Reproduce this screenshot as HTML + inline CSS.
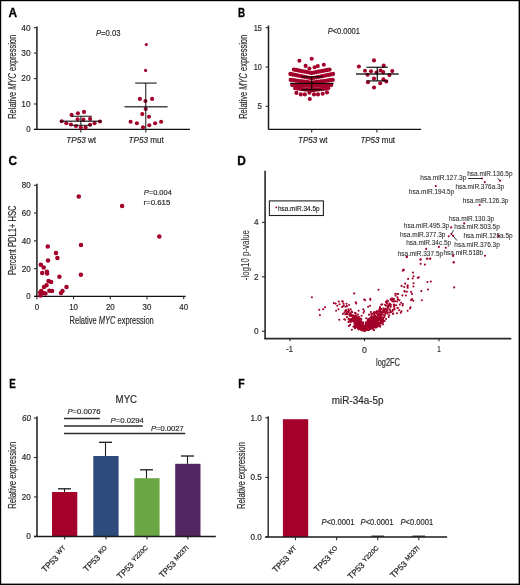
<!DOCTYPE html>
<html><head><meta charset="utf-8"><style>
html,body{margin:0;padding:0;background:#fff;}
body{width:520px;height:585px;overflow:hidden;}
svg{display:block;will-change:transform;font-family:"Liberation Sans",sans-serif;}
</style></head><body>
<svg width="520" height="585" viewBox="0 0 520 585">
<rect x="0" y="0" width="520" height="585" fill="#fff"/>
<text x="8.60" y="17.20" font-size="11.9" font-weight="bold" fill="#000" stroke="#000" stroke-width="0.3" >A</text>
<text x="238.00" y="17.30" font-size="11.9" textLength="7.10" lengthAdjust="spacingAndGlyphs" font-weight="bold" fill="#000" stroke="#000" stroke-width="0.3" >B</text>
<text x="8.40" y="164.60" font-size="11.9" font-weight="bold" fill="#000" stroke="#000" stroke-width="0.3" >C</text>
<text x="237.20" y="164.50" font-size="11.9" font-weight="bold" fill="#000" stroke="#000" stroke-width="0.3" >D</text>
<text x="9.30" y="388.20" font-size="11.9" textLength="6.50" lengthAdjust="spacingAndGlyphs" font-weight="bold" fill="#000" stroke="#000" stroke-width="0.3" >E</text>
<text x="238.30" y="388.30" font-size="11.9" textLength="6.40" lengthAdjust="spacingAndGlyphs" font-weight="bold" fill="#000" stroke="#000" stroke-width="0.3" >F</text>
<line x1="36.90" y1="26.50" x2="36.90" y2="129.40" stroke="#404040" stroke-width="1.8"/>
<line x1="33.90" y1="129.40" x2="36.90" y2="129.40" stroke="#2a2a2a" stroke-width="1.1"/>
<text x="30.60" y="132.30" font-size="8.2" textLength="4.40" lengthAdjust="spacingAndGlyphs" text-anchor="end" fill="#2a2a2a" stroke="#2a2a2a" stroke-width="0.18" >0</text>
<line x1="33.90" y1="103.98" x2="36.90" y2="103.98" stroke="#2a2a2a" stroke-width="1.1"/>
<text x="30.60" y="106.88" font-size="8.2" textLength="9.30" lengthAdjust="spacingAndGlyphs" text-anchor="end" fill="#2a2a2a" stroke="#2a2a2a" stroke-width="0.18" >10</text>
<line x1="33.90" y1="78.55" x2="36.90" y2="78.55" stroke="#2a2a2a" stroke-width="1.1"/>
<text x="30.60" y="81.45" font-size="8.2" textLength="9.30" lengthAdjust="spacingAndGlyphs" text-anchor="end" fill="#2a2a2a" stroke="#2a2a2a" stroke-width="0.18" >20</text>
<line x1="33.90" y1="53.12" x2="36.90" y2="53.12" stroke="#2a2a2a" stroke-width="1.1"/>
<text x="30.60" y="56.02" font-size="8.2" textLength="9.30" lengthAdjust="spacingAndGlyphs" text-anchor="end" fill="#2a2a2a" stroke="#2a2a2a" stroke-width="0.18" >30</text>
<line x1="33.90" y1="27.70" x2="36.90" y2="27.70" stroke="#2a2a2a" stroke-width="1.1"/>
<text x="30.60" y="30.60" font-size="8.2" textLength="9.30" lengthAdjust="spacingAndGlyphs" text-anchor="end" fill="#2a2a2a" stroke="#2a2a2a" stroke-width="0.18" >40</text>
<line x1="33.90" y1="129.40" x2="190.00" y2="129.40" stroke="#111" stroke-width="1.3"/>
<line x1="80.80" y1="129.40" x2="80.80" y2="132.60" stroke="#2a2a2a" stroke-width="1.1"/>
<line x1="145.80" y1="129.40" x2="145.80" y2="132.60" stroke="#2a2a2a" stroke-width="1.1"/>
<text x="0" y="0" font-size="10.8" text-anchor="middle" transform="translate(16.05,76.80) rotate(-90)" fill="#2a2a2a" stroke="#2a2a2a" stroke-width="0.18" textLength="84.00" lengthAdjust="spacingAndGlyphs">Relative <tspan font-style="italic">MYC</tspan> expression</text>
<text x="96.00" y="35.50" font-size="8.4" textLength="24.40" lengthAdjust="spacingAndGlyphs" fill="#2a2a2a" stroke="#2a2a2a" stroke-width="0.18" ><tspan font-style="italic">P</tspan>=0.03</text>
<text x="66.30" y="143.00" font-size="8.4" textLength="29.80" lengthAdjust="spacingAndGlyphs" fill="#2a2a2a" stroke="#2a2a2a" stroke-width="0.18" ><tspan font-style="italic">TP53</tspan> wt</text>
<text x="128.50" y="142.80" font-size="8.4" textLength="35.30" lengthAdjust="spacingAndGlyphs" fill="#2a2a2a" stroke="#2a2a2a" stroke-width="0.18" ><tspan font-style="italic">TP53</tspan> mut</text>
<circle cx="61.70" cy="121.30" r="2.05" fill="#a3002a"/>
<circle cx="66.30" cy="123.30" r="2.05" fill="#a3002a"/>
<circle cx="71.60" cy="114.90" r="2.05" fill="#a3002a"/>
<circle cx="70.90" cy="124.50" r="2.05" fill="#a3002a"/>
<circle cx="76.00" cy="126.00" r="2.05" fill="#a3002a"/>
<circle cx="77.90" cy="113.20" r="2.05" fill="#a3002a"/>
<circle cx="77.60" cy="119.20" r="2.05" fill="#a3002a"/>
<circle cx="80.80" cy="127.60" r="2.05" fill="#a3002a"/>
<circle cx="84.00" cy="111.90" r="2.05" fill="#a3002a"/>
<circle cx="83.40" cy="119.60" r="2.05" fill="#a3002a"/>
<circle cx="85.60" cy="127.60" r="2.05" fill="#a3002a"/>
<circle cx="90.10" cy="118.90" r="2.05" fill="#a3002a"/>
<circle cx="90.10" cy="124.70" r="2.05" fill="#a3002a"/>
<circle cx="94.60" cy="123.30" r="2.05" fill="#a3002a"/>
<circle cx="99.90" cy="121.50" r="2.05" fill="#a3002a"/>
<circle cx="139.90" cy="98.90" r="2.05" fill="#a3002a"/>
<circle cx="145.40" cy="101.00" r="2.05" fill="#a3002a"/>
<circle cx="152.10" cy="98.90" r="2.05" fill="#a3002a"/>
<circle cx="145.70" cy="109.00" r="2.05" fill="#a3002a"/>
<circle cx="142.30" cy="114.10" r="2.05" fill="#a3002a"/>
<circle cx="149.00" cy="116.80" r="2.05" fill="#a3002a"/>
<circle cx="130.60" cy="121.80" r="2.05" fill="#a3002a"/>
<circle cx="136.90" cy="123.20" r="2.05" fill="#a3002a"/>
<circle cx="155.10" cy="123.20" r="2.05" fill="#a3002a"/>
<circle cx="161.10" cy="121.80" r="2.05" fill="#a3002a"/>
<circle cx="143.00" cy="127.20" r="2.05" fill="#a3002a"/>
<circle cx="149.30" cy="125.20" r="2.05" fill="#a3002a"/>
<circle cx="146.30" cy="44.50" r="1.6" fill="#a3002a"/>
<circle cx="145.60" cy="70.40" r="1.6" fill="#a3002a"/>
<line x1="59.80" y1="121.30" x2="102.10" y2="121.30" stroke="rgba(0,0,0,0.72)" stroke-width="1.4"/>
<line x1="71.30" y1="116.30" x2="91.80" y2="116.30" stroke="rgba(0,0,0,0.72)" stroke-width="1.3"/>
<line x1="71.30" y1="125.40" x2="91.80" y2="125.40" stroke="rgba(0,0,0,0.72)" stroke-width="1.3"/>
<line x1="80.80" y1="116.30" x2="80.80" y2="125.40" stroke="rgba(0,0,0,0.72)" stroke-width="1.3"/>
<line x1="124.50" y1="106.70" x2="167.60" y2="106.70" stroke="rgba(0,0,0,0.72)" stroke-width="1.4"/>
<line x1="135.20" y1="83.10" x2="156.70" y2="83.10" stroke="rgba(0,0,0,0.72)" stroke-width="1.4"/>
<line x1="145.70" y1="83.10" x2="145.70" y2="129.40" stroke="rgba(0,0,0,0.72)" stroke-width="1.3"/>
<line x1="268.50" y1="25.50" x2="268.50" y2="129.40" stroke="#1a1a1a" stroke-width="1.5"/>
<line x1="265.60" y1="106.30" x2="268.40" y2="106.30" stroke="#2a2a2a" stroke-width="1.1"/>
<text x="261.80" y="109.20" font-size="8.2" textLength="4.40" lengthAdjust="spacingAndGlyphs" text-anchor="end" fill="#2a2a2a" stroke="#2a2a2a" stroke-width="0.18" >5</text>
<line x1="265.60" y1="67.00" x2="268.40" y2="67.00" stroke="#2a2a2a" stroke-width="1.1"/>
<text x="261.80" y="69.90" font-size="8.2" textLength="8.10" lengthAdjust="spacingAndGlyphs" text-anchor="end" fill="#2a2a2a" stroke="#2a2a2a" stroke-width="0.18" >10</text>
<line x1="265.60" y1="27.70" x2="268.40" y2="27.70" stroke="#2a2a2a" stroke-width="1.1"/>
<text x="261.80" y="30.60" font-size="8.2" textLength="8.10" lengthAdjust="spacingAndGlyphs" text-anchor="end" fill="#2a2a2a" stroke="#2a2a2a" stroke-width="0.18" >15</text>
<line x1="268.40" y1="129.40" x2="421.20" y2="129.40" stroke="#111" stroke-width="1.3"/>
<line x1="311.70" y1="129.40" x2="311.70" y2="132.60" stroke="#2a2a2a" stroke-width="1.1"/>
<line x1="376.90" y1="129.40" x2="376.90" y2="132.60" stroke="#2a2a2a" stroke-width="1.1"/>
<text x="0" y="0" font-size="10.6" text-anchor="middle" transform="translate(247.00,76.80) rotate(-90)" fill="#2a2a2a" stroke="#2a2a2a" stroke-width="0.18" textLength="84.00" lengthAdjust="spacingAndGlyphs">Relative <tspan font-style="italic">MYC</tspan> expression</text>
<text x="327.70" y="33.90" font-size="8.2" textLength="32.20" lengthAdjust="spacingAndGlyphs" fill="#2a2a2a" stroke="#2a2a2a" stroke-width="0.18" ><tspan font-style="italic">P</tspan>&lt;0.0001</text>
<text x="298.00" y="142.80" font-size="8.4" textLength="29.40" lengthAdjust="spacingAndGlyphs" fill="#2a2a2a" stroke="#2a2a2a" stroke-width="0.18" ><tspan font-style="italic">TP53</tspan> wt</text>
<text x="360.40" y="142.80" font-size="8.4" textLength="34.70" lengthAdjust="spacingAndGlyphs" fill="#2a2a2a" stroke="#2a2a2a" stroke-width="0.18" ><tspan font-style="italic">TP53</tspan> mut</text>
<circle cx="293.90" cy="69.60" r="2.15" fill="#a3002a"/>
<circle cx="296.12" cy="70.02" r="2.15" fill="#a3002a"/>
<circle cx="298.35" cy="70.45" r="2.15" fill="#a3002a"/>
<circle cx="300.57" cy="70.88" r="2.15" fill="#a3002a"/>
<circle cx="302.80" cy="71.30" r="2.15" fill="#a3002a"/>
<circle cx="305.02" cy="71.72" r="2.15" fill="#a3002a"/>
<circle cx="307.25" cy="72.15" r="2.15" fill="#a3002a"/>
<circle cx="309.47" cy="72.58" r="2.15" fill="#a3002a"/>
<circle cx="311.70" cy="73.00" r="2.15" fill="#a3002a"/>
<circle cx="313.93" cy="72.58" r="2.15" fill="#a3002a"/>
<circle cx="316.15" cy="72.15" r="2.15" fill="#a3002a"/>
<circle cx="318.38" cy="71.72" r="2.15" fill="#a3002a"/>
<circle cx="320.60" cy="71.30" r="2.15" fill="#a3002a"/>
<circle cx="322.82" cy="70.88" r="2.15" fill="#a3002a"/>
<circle cx="325.05" cy="70.45" r="2.15" fill="#a3002a"/>
<circle cx="327.27" cy="70.02" r="2.15" fill="#a3002a"/>
<circle cx="329.50" cy="69.60" r="2.15" fill="#a3002a"/>
<circle cx="290.40" cy="74.00" r="2.15" fill="#a3002a"/>
<circle cx="292.77" cy="74.48" r="2.15" fill="#a3002a"/>
<circle cx="295.13" cy="74.96" r="2.15" fill="#a3002a"/>
<circle cx="297.50" cy="75.43" r="2.15" fill="#a3002a"/>
<circle cx="299.87" cy="75.91" r="2.15" fill="#a3002a"/>
<circle cx="302.23" cy="76.39" r="2.15" fill="#a3002a"/>
<circle cx="304.60" cy="76.87" r="2.15" fill="#a3002a"/>
<circle cx="306.97" cy="77.34" r="2.15" fill="#a3002a"/>
<circle cx="309.33" cy="77.82" r="2.15" fill="#a3002a"/>
<circle cx="311.70" cy="78.30" r="2.15" fill="#a3002a"/>
<circle cx="314.07" cy="77.82" r="2.15" fill="#a3002a"/>
<circle cx="316.43" cy="77.34" r="2.15" fill="#a3002a"/>
<circle cx="318.80" cy="76.87" r="2.15" fill="#a3002a"/>
<circle cx="321.17" cy="76.39" r="2.15" fill="#a3002a"/>
<circle cx="323.53" cy="75.91" r="2.15" fill="#a3002a"/>
<circle cx="325.90" cy="75.43" r="2.15" fill="#a3002a"/>
<circle cx="328.27" cy="74.96" r="2.15" fill="#a3002a"/>
<circle cx="330.63" cy="74.48" r="2.15" fill="#a3002a"/>
<circle cx="333.00" cy="74.00" r="2.15" fill="#a3002a"/>
<circle cx="290.70" cy="79.90" r="2.15" fill="#a3002a"/>
<circle cx="293.03" cy="80.20" r="2.15" fill="#a3002a"/>
<circle cx="295.37" cy="80.50" r="2.15" fill="#a3002a"/>
<circle cx="297.70" cy="80.80" r="2.15" fill="#a3002a"/>
<circle cx="300.03" cy="81.10" r="2.15" fill="#a3002a"/>
<circle cx="302.37" cy="81.40" r="2.15" fill="#a3002a"/>
<circle cx="304.70" cy="81.70" r="2.15" fill="#a3002a"/>
<circle cx="307.03" cy="82.00" r="2.15" fill="#a3002a"/>
<circle cx="309.37" cy="82.30" r="2.15" fill="#a3002a"/>
<circle cx="311.70" cy="82.60" r="2.15" fill="#a3002a"/>
<circle cx="314.03" cy="82.30" r="2.15" fill="#a3002a"/>
<circle cx="316.37" cy="82.00" r="2.15" fill="#a3002a"/>
<circle cx="318.70" cy="81.70" r="2.15" fill="#a3002a"/>
<circle cx="321.03" cy="81.40" r="2.15" fill="#a3002a"/>
<circle cx="323.37" cy="81.10" r="2.15" fill="#a3002a"/>
<circle cx="325.70" cy="80.80" r="2.15" fill="#a3002a"/>
<circle cx="328.03" cy="80.50" r="2.15" fill="#a3002a"/>
<circle cx="330.37" cy="80.20" r="2.15" fill="#a3002a"/>
<circle cx="332.70" cy="79.90" r="2.15" fill="#a3002a"/>
<circle cx="292.20" cy="85.00" r="2.15" fill="#a3002a"/>
<circle cx="294.64" cy="85.12" r="2.15" fill="#a3002a"/>
<circle cx="297.07" cy="85.25" r="2.15" fill="#a3002a"/>
<circle cx="299.51" cy="85.38" r="2.15" fill="#a3002a"/>
<circle cx="301.95" cy="85.50" r="2.15" fill="#a3002a"/>
<circle cx="304.39" cy="85.62" r="2.15" fill="#a3002a"/>
<circle cx="306.82" cy="85.75" r="2.15" fill="#a3002a"/>
<circle cx="309.26" cy="85.88" r="2.15" fill="#a3002a"/>
<circle cx="311.70" cy="86.00" r="2.15" fill="#a3002a"/>
<circle cx="314.14" cy="85.88" r="2.15" fill="#a3002a"/>
<circle cx="316.57" cy="85.75" r="2.15" fill="#a3002a"/>
<circle cx="319.01" cy="85.62" r="2.15" fill="#a3002a"/>
<circle cx="321.45" cy="85.50" r="2.15" fill="#a3002a"/>
<circle cx="323.89" cy="85.38" r="2.15" fill="#a3002a"/>
<circle cx="326.32" cy="85.25" r="2.15" fill="#a3002a"/>
<circle cx="328.76" cy="85.12" r="2.15" fill="#a3002a"/>
<circle cx="331.20" cy="85.00" r="2.15" fill="#a3002a"/>
<circle cx="295.20" cy="88.20" r="2.15" fill="#a3002a"/>
<circle cx="297.56" cy="88.50" r="2.15" fill="#a3002a"/>
<circle cx="299.91" cy="88.80" r="2.15" fill="#a3002a"/>
<circle cx="302.27" cy="89.10" r="2.15" fill="#a3002a"/>
<circle cx="304.63" cy="89.40" r="2.15" fill="#a3002a"/>
<circle cx="306.99" cy="89.70" r="2.15" fill="#a3002a"/>
<circle cx="309.34" cy="90.00" r="2.15" fill="#a3002a"/>
<circle cx="311.70" cy="90.30" r="2.15" fill="#a3002a"/>
<circle cx="314.06" cy="90.00" r="2.15" fill="#a3002a"/>
<circle cx="316.41" cy="89.70" r="2.15" fill="#a3002a"/>
<circle cx="318.77" cy="89.40" r="2.15" fill="#a3002a"/>
<circle cx="321.13" cy="89.10" r="2.15" fill="#a3002a"/>
<circle cx="323.49" cy="88.80" r="2.15" fill="#a3002a"/>
<circle cx="325.84" cy="88.50" r="2.15" fill="#a3002a"/>
<circle cx="328.20" cy="88.20" r="2.15" fill="#a3002a"/>
<circle cx="299.40" cy="60.70" r="2.05" fill="#a3002a"/>
<circle cx="311.70" cy="58.70" r="2.05" fill="#a3002a"/>
<circle cx="305.60" cy="65.90" r="2.05" fill="#a3002a"/>
<circle cx="309.40" cy="68.50" r="2.05" fill="#a3002a"/>
<circle cx="314.60" cy="67.30" r="2.05" fill="#a3002a"/>
<circle cx="317.80" cy="66.10" r="2.05" fill="#a3002a"/>
<circle cx="323.80" cy="64.80" r="2.05" fill="#a3002a"/>
<circle cx="309.80" cy="99.00" r="2.05" fill="#a3002a"/>
<circle cx="296.40" cy="92.90" r="2.05" fill="#a3002a"/>
<circle cx="300.80" cy="94.40" r="2.05" fill="#a3002a"/>
<circle cx="304.80" cy="94.40" r="2.05" fill="#a3002a"/>
<circle cx="309.40" cy="92.70" r="2.05" fill="#a3002a"/>
<circle cx="314.00" cy="94.40" r="2.05" fill="#a3002a"/>
<circle cx="318.00" cy="94.40" r="2.05" fill="#a3002a"/>
<circle cx="322.70" cy="93.80" r="2.05" fill="#a3002a"/>
<circle cx="327.00" cy="92.40" r="2.05" fill="#a3002a"/>
<line x1="290.10" y1="83.40" x2="333.60" y2="83.40" stroke="rgba(0,0,0,0.85)" stroke-width="1.4"/>
<line x1="301.30" y1="76.80" x2="322.70" y2="76.80" stroke="rgba(0,0,0,0.85)" stroke-width="1.3"/>
<line x1="301.30" y1="89.80" x2="322.70" y2="89.80" stroke="rgba(0,0,0,0.85)" stroke-width="1.3"/>
<line x1="311.70" y1="76.80" x2="311.70" y2="89.80" stroke="rgba(0,0,0,0.85)" stroke-width="1.3"/>
<circle cx="374.00" cy="60.40" r="2.05" fill="#a3002a"/>
<circle cx="358.90" cy="66.50" r="2.05" fill="#a3002a"/>
<circle cx="383.70" cy="65.60" r="2.05" fill="#a3002a"/>
<circle cx="365.00" cy="70.80" r="2.05" fill="#a3002a"/>
<circle cx="371.00" cy="71.30" r="2.05" fill="#a3002a"/>
<circle cx="376.50" cy="72.50" r="2.05" fill="#a3002a"/>
<circle cx="380.60" cy="70.50" r="2.05" fill="#a3002a"/>
<circle cx="383.20" cy="72.10" r="2.05" fill="#a3002a"/>
<circle cx="392.30" cy="71.10" r="2.05" fill="#a3002a"/>
<circle cx="367.60" cy="74.80" r="2.05" fill="#a3002a"/>
<circle cx="389.40" cy="75.10" r="2.05" fill="#a3002a"/>
<circle cx="374.00" cy="78.60" r="2.05" fill="#a3002a"/>
<circle cx="383.40" cy="79.40" r="2.05" fill="#a3002a"/>
<circle cx="367.90" cy="82.30" r="2.05" fill="#a3002a"/>
<circle cx="380.20" cy="83.20" r="2.05" fill="#a3002a"/>
<circle cx="386.30" cy="81.40" r="2.05" fill="#a3002a"/>
<circle cx="374.00" cy="87.50" r="2.05" fill="#a3002a"/>
<line x1="356.00" y1="74.00" x2="398.70" y2="74.00" stroke="rgba(0,0,0,0.85)" stroke-width="1.4"/>
<line x1="366.50" y1="67.30" x2="387.80" y2="67.30" stroke="rgba(0,0,0,0.85)" stroke-width="1.3"/>
<line x1="366.50" y1="80.90" x2="387.80" y2="80.90" stroke="rgba(0,0,0,0.85)" stroke-width="1.3"/>
<line x1="377.30" y1="67.30" x2="377.30" y2="80.90" stroke="rgba(0,0,0,0.85)" stroke-width="1.3"/>
<line x1="36.90" y1="183.80" x2="36.90" y2="296.40" stroke="#404040" stroke-width="1.8"/>
<line x1="34.00" y1="296.40" x2="36.90" y2="296.40" stroke="#2a2a2a" stroke-width="1.1"/>
<text x="30.70" y="299.40" font-size="8.4" textLength="4.40" lengthAdjust="spacingAndGlyphs" text-anchor="end" fill="#2a2a2a" stroke="#2a2a2a" stroke-width="0.18" >0</text>
<line x1="34.00" y1="268.62" x2="36.90" y2="268.62" stroke="#2a2a2a" stroke-width="1.1"/>
<text x="30.70" y="271.62" font-size="8.4" textLength="9.00" lengthAdjust="spacingAndGlyphs" text-anchor="end" fill="#2a2a2a" stroke="#2a2a2a" stroke-width="0.18" >20</text>
<line x1="34.00" y1="240.85" x2="36.90" y2="240.85" stroke="#2a2a2a" stroke-width="1.1"/>
<text x="30.70" y="243.85" font-size="8.4" textLength="9.00" lengthAdjust="spacingAndGlyphs" text-anchor="end" fill="#2a2a2a" stroke="#2a2a2a" stroke-width="0.18" >40</text>
<line x1="34.00" y1="213.07" x2="36.90" y2="213.07" stroke="#2a2a2a" stroke-width="1.1"/>
<text x="30.70" y="216.07" font-size="8.4" textLength="9.00" lengthAdjust="spacingAndGlyphs" text-anchor="end" fill="#2a2a2a" stroke="#2a2a2a" stroke-width="0.18" >60</text>
<line x1="34.00" y1="185.30" x2="36.90" y2="185.30" stroke="#2a2a2a" stroke-width="1.1"/>
<text x="30.70" y="188.30" font-size="8.4" textLength="9.00" lengthAdjust="spacingAndGlyphs" text-anchor="end" fill="#2a2a2a" stroke="#2a2a2a" stroke-width="0.18" >80</text>
<line x1="34.00" y1="296.40" x2="185.60" y2="296.40" stroke="#111" stroke-width="1.3"/>
<line x1="36.90" y1="296.40" x2="36.90" y2="299.20" stroke="#2a2a2a" stroke-width="1.1"/>
<text x="36.90" y="309.90" font-size="8.5" textLength="4.40" lengthAdjust="spacingAndGlyphs" text-anchor="middle" fill="#2a2a2a" stroke="#2a2a2a" stroke-width="0.18" >0</text>
<line x1="73.60" y1="296.40" x2="73.60" y2="299.20" stroke="#2a2a2a" stroke-width="1.1"/>
<text x="73.60" y="309.90" font-size="8.5" textLength="8.80" lengthAdjust="spacingAndGlyphs" text-anchor="middle" fill="#2a2a2a" stroke="#2a2a2a" stroke-width="0.18" >10</text>
<line x1="110.30" y1="296.40" x2="110.30" y2="299.20" stroke="#2a2a2a" stroke-width="1.1"/>
<text x="110.30" y="309.90" font-size="8.5" textLength="8.80" lengthAdjust="spacingAndGlyphs" text-anchor="middle" fill="#2a2a2a" stroke="#2a2a2a" stroke-width="0.18" >20</text>
<line x1="147.00" y1="296.40" x2="147.00" y2="299.20" stroke="#2a2a2a" stroke-width="1.1"/>
<text x="147.00" y="309.90" font-size="8.5" textLength="8.80" lengthAdjust="spacingAndGlyphs" text-anchor="middle" fill="#2a2a2a" stroke="#2a2a2a" stroke-width="0.18" >30</text>
<line x1="183.70" y1="296.40" x2="183.70" y2="299.20" stroke="#2a2a2a" stroke-width="1.1"/>
<text x="183.70" y="309.90" font-size="8.5" textLength="8.80" lengthAdjust="spacingAndGlyphs" text-anchor="middle" fill="#2a2a2a" stroke="#2a2a2a" stroke-width="0.18" >40</text>
<text x="0" y="0" font-size="10.8" text-anchor="middle" transform="translate(16.00,240.35) rotate(-90)" fill="#2a2a2a" stroke="#2a2a2a" stroke-width="0.18" textLength="69.50" lengthAdjust="spacingAndGlyphs">Percent PDL1+ HSC</text>
<text x="69.60" y="323.70" font-size="10.8" textLength="84.20" lengthAdjust="spacingAndGlyphs" fill="#2a2a2a" stroke="#2a2a2a" stroke-width="0.18" >Relative <tspan font-style="italic">MYC</tspan> expression</text>
<text x="143.80" y="195.40" font-size="7.6" textLength="28.00" lengthAdjust="spacingAndGlyphs" fill="#2a2a2a" stroke="#2a2a2a" stroke-width="0.18" ><tspan font-style="italic">P</tspan>=0.004</text>
<text x="143.50" y="205.20" font-size="7.6" textLength="26.80" lengthAdjust="spacingAndGlyphs" fill="#2a2a2a" stroke="#2a2a2a" stroke-width="0.18" >r=0.615</text>
<circle cx="78.80" cy="196.50" r="2.25" fill="#a3002a"/>
<circle cx="122.10" cy="206.10" r="2.25" fill="#a3002a"/>
<circle cx="159.30" cy="236.40" r="2.25" fill="#a3002a"/>
<circle cx="81.00" cy="245.00" r="2.25" fill="#a3002a"/>
<circle cx="47.80" cy="246.40" r="2.25" fill="#a3002a"/>
<circle cx="56.00" cy="253.10" r="2.25" fill="#a3002a"/>
<circle cx="57.40" cy="258.00" r="2.25" fill="#a3002a"/>
<circle cx="48.00" cy="260.50" r="2.25" fill="#a3002a"/>
<circle cx="40.80" cy="264.80" r="2.25" fill="#a3002a"/>
<circle cx="43.70" cy="267.50" r="2.25" fill="#a3002a"/>
<circle cx="42.20" cy="272.90" r="2.25" fill="#a3002a"/>
<circle cx="46.90" cy="271.70" r="2.25" fill="#a3002a"/>
<circle cx="47.10" cy="273.50" r="2.25" fill="#a3002a"/>
<circle cx="59.40" cy="276.70" r="2.25" fill="#a3002a"/>
<circle cx="80.90" cy="274.80" r="2.25" fill="#a3002a"/>
<circle cx="48.50" cy="281.00" r="2.25" fill="#a3002a"/>
<circle cx="51.10" cy="282.10" r="2.25" fill="#a3002a"/>
<circle cx="46.50" cy="285.20" r="2.25" fill="#a3002a"/>
<circle cx="44.00" cy="287.10" r="2.25" fill="#a3002a"/>
<circle cx="66.50" cy="287.10" r="2.25" fill="#a3002a"/>
<circle cx="41.30" cy="291.00" r="2.25" fill="#a3002a"/>
<circle cx="49.40" cy="290.80" r="2.25" fill="#a3002a"/>
<circle cx="52.10" cy="291.10" r="2.25" fill="#a3002a"/>
<circle cx="62.50" cy="291.00" r="2.25" fill="#a3002a"/>
<circle cx="61.00" cy="293.10" r="2.25" fill="#a3002a"/>
<circle cx="45.40" cy="293.60" r="2.25" fill="#a3002a"/>
<circle cx="43.10" cy="293.10" r="2.25" fill="#a3002a"/>
<circle cx="40.50" cy="295.40" r="2.25" fill="#a3002a"/>
<circle cx="40.20" cy="292.50" r="2.25" fill="#a3002a"/>
<line x1="265.10" y1="170.80" x2="265.10" y2="338.60" stroke="#404040" stroke-width="1.8"/>
<line x1="261.90" y1="331.30" x2="265.10" y2="331.30" stroke="#2a2a2a" stroke-width="1.1"/>
<text x="258.60" y="334.40" font-size="8.8" textLength="4.60" lengthAdjust="spacingAndGlyphs" text-anchor="end" fill="#2a2a2a" stroke="#2a2a2a" stroke-width="0.18" >0</text>
<line x1="261.90" y1="276.80" x2="265.10" y2="276.80" stroke="#2a2a2a" stroke-width="1.1"/>
<text x="258.60" y="279.90" font-size="8.8" textLength="4.60" lengthAdjust="spacingAndGlyphs" text-anchor="end" fill="#2a2a2a" stroke="#2a2a2a" stroke-width="0.18" >2</text>
<line x1="261.90" y1="222.30" x2="265.10" y2="222.30" stroke="#2a2a2a" stroke-width="1.1"/>
<text x="258.60" y="225.40" font-size="8.8" textLength="4.60" lengthAdjust="spacingAndGlyphs" text-anchor="end" fill="#2a2a2a" stroke="#2a2a2a" stroke-width="0.18" >4</text>
<line x1="264.20" y1="338.60" x2="511.30" y2="338.60" stroke="#2a2a2a" stroke-width="1.6"/>
<line x1="290.00" y1="338.60" x2="290.00" y2="341.30" stroke="#2a2a2a" stroke-width="1.1"/>
<line x1="364.50" y1="338.60" x2="364.50" y2="341.30" stroke="#2a2a2a" stroke-width="1.1"/>
<line x1="439.00" y1="338.60" x2="439.00" y2="341.30" stroke="#2a2a2a" stroke-width="1.1"/>
<text x="289.70" y="352.20" font-size="8.6" textLength="6.70" lengthAdjust="spacingAndGlyphs" text-anchor="middle" fill="#2a2a2a" stroke="#2a2a2a" stroke-width="0.18" >-1</text>
<text x="364.50" y="352.50" font-size="8.6" textLength="4.90" lengthAdjust="spacingAndGlyphs" text-anchor="middle" fill="#2a2a2a" stroke="#2a2a2a" stroke-width="0.18" >0</text>
<text x="439.10" y="352.20" font-size="8.6" textLength="3.50" lengthAdjust="spacingAndGlyphs" text-anchor="middle" fill="#2a2a2a" stroke="#2a2a2a" stroke-width="0.18" >1</text>
<text x="0" y="0" font-size="10.0" text-anchor="middle" transform="translate(248.80,255.10) rotate(-90)" fill="#2a2a2a" stroke="#2a2a2a" stroke-width="0.02" textLength="50.20" lengthAdjust="spacingAndGlyphs">-log10 p-value</text>
<text x="376.00" y="366.20" font-size="10.7" textLength="24.00" lengthAdjust="spacingAndGlyphs" fill="#2a2a2a" stroke="#2a2a2a" stroke-width="0.18" >log2FC</text>
<rect x="269.4" y="200.9" width="54" height="14.6" fill="none" stroke="#222" stroke-width="1.1"/>
<circle cx="276.20" cy="207.40" r="0.9" fill="#a3002a"/>
<text x="277.90" y="210.60" font-size="7.0" textLength="41.70" lengthAdjust="spacingAndGlyphs" fill="#2a2a2a" stroke="#2a2a2a" stroke-width="0.18" >hsa.miR.34.5p</text>
<circle cx="367.17" cy="327.08" r="1.05" fill="#a3002a"/>
<circle cx="382.64" cy="322.83" r="1.05" fill="#a3002a"/>
<circle cx="354.95" cy="322.85" r="1.05" fill="#a3002a"/>
<circle cx="365.68" cy="327.61" r="1.05" fill="#a3002a"/>
<circle cx="354.20" cy="315.76" r="1.05" fill="#a3002a"/>
<circle cx="375.32" cy="318.70" r="1.05" fill="#a3002a"/>
<circle cx="359.63" cy="324.32" r="1.05" fill="#a3002a"/>
<circle cx="382.66" cy="318.15" r="1.05" fill="#a3002a"/>
<circle cx="375.55" cy="321.20" r="1.05" fill="#a3002a"/>
<circle cx="365.69" cy="324.21" r="1.05" fill="#a3002a"/>
<circle cx="362.22" cy="328.54" r="1.05" fill="#a3002a"/>
<circle cx="364.85" cy="327.49" r="1.05" fill="#a3002a"/>
<circle cx="365.11" cy="330.10" r="1.05" fill="#a3002a"/>
<circle cx="382.99" cy="319.56" r="1.05" fill="#a3002a"/>
<circle cx="359.23" cy="322.16" r="1.05" fill="#a3002a"/>
<circle cx="366.93" cy="325.11" r="1.05" fill="#a3002a"/>
<circle cx="378.12" cy="319.40" r="1.05" fill="#a3002a"/>
<circle cx="362.62" cy="323.35" r="1.05" fill="#a3002a"/>
<circle cx="360.08" cy="324.91" r="1.05" fill="#a3002a"/>
<circle cx="363.77" cy="327.11" r="1.05" fill="#a3002a"/>
<circle cx="368.46" cy="326.69" r="1.05" fill="#a3002a"/>
<circle cx="370.97" cy="321.89" r="1.05" fill="#a3002a"/>
<circle cx="360.88" cy="320.26" r="1.05" fill="#a3002a"/>
<circle cx="370.68" cy="326.03" r="1.05" fill="#a3002a"/>
<circle cx="358.66" cy="329.57" r="1.05" fill="#a3002a"/>
<circle cx="347.14" cy="314.05" r="1.05" fill="#a3002a"/>
<circle cx="364.46" cy="329.35" r="1.05" fill="#a3002a"/>
<circle cx="369.77" cy="321.02" r="1.05" fill="#a3002a"/>
<circle cx="360.40" cy="326.90" r="1.05" fill="#a3002a"/>
<circle cx="362.97" cy="325.19" r="1.05" fill="#a3002a"/>
<circle cx="380.04" cy="307.16" r="1.05" fill="#a3002a"/>
<circle cx="365.14" cy="326.22" r="1.05" fill="#a3002a"/>
<circle cx="368.65" cy="328.32" r="1.05" fill="#a3002a"/>
<circle cx="359.02" cy="319.14" r="1.05" fill="#a3002a"/>
<circle cx="374.14" cy="312.16" r="1.05" fill="#a3002a"/>
<circle cx="358.20" cy="318.04" r="1.05" fill="#a3002a"/>
<circle cx="353.02" cy="321.21" r="1.05" fill="#a3002a"/>
<circle cx="353.49" cy="326.64" r="1.05" fill="#a3002a"/>
<circle cx="374.01" cy="319.60" r="1.05" fill="#a3002a"/>
<circle cx="356.99" cy="319.40" r="1.05" fill="#a3002a"/>
<circle cx="375.46" cy="326.13" r="1.05" fill="#a3002a"/>
<circle cx="358.83" cy="321.55" r="1.05" fill="#a3002a"/>
<circle cx="373.39" cy="317.67" r="1.05" fill="#a3002a"/>
<circle cx="366.37" cy="323.59" r="1.05" fill="#a3002a"/>
<circle cx="361.11" cy="329.17" r="1.05" fill="#a3002a"/>
<circle cx="361.60" cy="322.00" r="1.05" fill="#a3002a"/>
<circle cx="375.32" cy="316.87" r="1.05" fill="#a3002a"/>
<circle cx="369.93" cy="326.36" r="1.05" fill="#a3002a"/>
<circle cx="362.56" cy="326.96" r="1.05" fill="#a3002a"/>
<circle cx="366.74" cy="324.64" r="1.05" fill="#a3002a"/>
<circle cx="359.90" cy="327.00" r="1.05" fill="#a3002a"/>
<circle cx="350.44" cy="322.08" r="1.05" fill="#a3002a"/>
<circle cx="360.30" cy="328.34" r="1.05" fill="#a3002a"/>
<circle cx="370.24" cy="324.41" r="1.05" fill="#a3002a"/>
<circle cx="377.95" cy="319.99" r="1.05" fill="#a3002a"/>
<circle cx="365.88" cy="329.42" r="1.05" fill="#a3002a"/>
<circle cx="355.11" cy="328.36" r="1.05" fill="#a3002a"/>
<circle cx="369.18" cy="321.24" r="1.05" fill="#a3002a"/>
<circle cx="379.97" cy="309.29" r="1.05" fill="#a3002a"/>
<circle cx="357.57" cy="324.97" r="1.05" fill="#a3002a"/>
<circle cx="358.39" cy="321.44" r="1.05" fill="#a3002a"/>
<circle cx="358.99" cy="327.37" r="1.05" fill="#a3002a"/>
<circle cx="370.67" cy="326.09" r="1.05" fill="#a3002a"/>
<circle cx="360.67" cy="321.83" r="1.05" fill="#a3002a"/>
<circle cx="366.66" cy="322.75" r="1.05" fill="#a3002a"/>
<circle cx="368.11" cy="327.27" r="1.05" fill="#a3002a"/>
<circle cx="362.03" cy="324.69" r="1.05" fill="#a3002a"/>
<circle cx="371.55" cy="315.86" r="1.05" fill="#a3002a"/>
<circle cx="354.13" cy="315.82" r="1.05" fill="#a3002a"/>
<circle cx="361.85" cy="323.81" r="1.05" fill="#a3002a"/>
<circle cx="366.78" cy="324.29" r="1.05" fill="#a3002a"/>
<circle cx="350.65" cy="315.51" r="1.05" fill="#a3002a"/>
<circle cx="381.06" cy="315.08" r="1.05" fill="#a3002a"/>
<circle cx="370.02" cy="328.63" r="1.05" fill="#a3002a"/>
<circle cx="346.54" cy="303.71" r="1.05" fill="#a3002a"/>
<circle cx="366.72" cy="325.23" r="1.05" fill="#a3002a"/>
<circle cx="364.79" cy="329.38" r="1.05" fill="#a3002a"/>
<circle cx="372.28" cy="313.76" r="1.05" fill="#a3002a"/>
<circle cx="371.70" cy="318.65" r="1.05" fill="#a3002a"/>
<circle cx="363.14" cy="324.00" r="1.05" fill="#a3002a"/>
<circle cx="364.81" cy="329.49" r="1.05" fill="#a3002a"/>
<circle cx="372.23" cy="319.78" r="1.05" fill="#a3002a"/>
<circle cx="362.08" cy="328.69" r="1.05" fill="#a3002a"/>
<circle cx="365.56" cy="325.32" r="1.05" fill="#a3002a"/>
<circle cx="367.10" cy="327.06" r="1.05" fill="#a3002a"/>
<circle cx="368.35" cy="325.22" r="1.05" fill="#a3002a"/>
<circle cx="372.97" cy="327.26" r="1.05" fill="#a3002a"/>
<circle cx="364.23" cy="327.92" r="1.05" fill="#a3002a"/>
<circle cx="371.01" cy="317.26" r="1.05" fill="#a3002a"/>
<circle cx="369.83" cy="322.23" r="1.05" fill="#a3002a"/>
<circle cx="359.84" cy="324.14" r="1.05" fill="#a3002a"/>
<circle cx="373.58" cy="325.32" r="1.05" fill="#a3002a"/>
<circle cx="365.73" cy="327.22" r="1.05" fill="#a3002a"/>
<circle cx="361.43" cy="327.40" r="1.05" fill="#a3002a"/>
<circle cx="367.69" cy="321.93" r="1.05" fill="#a3002a"/>
<circle cx="374.14" cy="313.95" r="1.05" fill="#a3002a"/>
<circle cx="366.52" cy="328.14" r="1.05" fill="#a3002a"/>
<circle cx="368.42" cy="325.74" r="1.05" fill="#a3002a"/>
<circle cx="360.97" cy="329.48" r="1.05" fill="#a3002a"/>
<circle cx="374.59" cy="325.50" r="1.05" fill="#a3002a"/>
<circle cx="367.61" cy="325.35" r="1.05" fill="#a3002a"/>
<circle cx="372.24" cy="319.53" r="1.05" fill="#a3002a"/>
<circle cx="376.15" cy="317.66" r="1.05" fill="#a3002a"/>
<circle cx="368.14" cy="323.19" r="1.05" fill="#a3002a"/>
<circle cx="378.88" cy="311.61" r="1.05" fill="#a3002a"/>
<circle cx="357.66" cy="317.36" r="1.05" fill="#a3002a"/>
<circle cx="367.90" cy="323.37" r="1.05" fill="#a3002a"/>
<circle cx="380.07" cy="320.09" r="1.05" fill="#a3002a"/>
<circle cx="366.22" cy="329.11" r="1.05" fill="#a3002a"/>
<circle cx="374.67" cy="315.38" r="1.05" fill="#a3002a"/>
<circle cx="362.74" cy="325.65" r="1.05" fill="#a3002a"/>
<circle cx="364.27" cy="328.69" r="1.05" fill="#a3002a"/>
<circle cx="361.34" cy="330.14" r="1.05" fill="#a3002a"/>
<circle cx="381.27" cy="309.12" r="1.05" fill="#a3002a"/>
<circle cx="372.52" cy="324.66" r="1.05" fill="#a3002a"/>
<circle cx="375.10" cy="315.54" r="1.05" fill="#a3002a"/>
<circle cx="367.15" cy="325.26" r="1.05" fill="#a3002a"/>
<circle cx="367.14" cy="326.21" r="1.05" fill="#a3002a"/>
<circle cx="370.92" cy="319.83" r="1.05" fill="#a3002a"/>
<circle cx="355.59" cy="317.25" r="1.05" fill="#a3002a"/>
<circle cx="369.43" cy="324.97" r="1.05" fill="#a3002a"/>
<circle cx="375.65" cy="317.64" r="1.05" fill="#a3002a"/>
<circle cx="361.60" cy="327.35" r="1.05" fill="#a3002a"/>
<circle cx="383.62" cy="310.75" r="1.05" fill="#a3002a"/>
<circle cx="363.61" cy="328.06" r="1.05" fill="#a3002a"/>
<circle cx="366.33" cy="326.99" r="1.05" fill="#a3002a"/>
<circle cx="352.43" cy="315.73" r="1.05" fill="#a3002a"/>
<circle cx="359.64" cy="321.61" r="1.05" fill="#a3002a"/>
<circle cx="377.84" cy="324.43" r="1.05" fill="#a3002a"/>
<circle cx="368.16" cy="327.55" r="1.05" fill="#a3002a"/>
<circle cx="346.83" cy="313.94" r="1.05" fill="#a3002a"/>
<circle cx="354.95" cy="327.41" r="1.05" fill="#a3002a"/>
<circle cx="372.75" cy="324.00" r="1.05" fill="#a3002a"/>
<circle cx="365.67" cy="329.74" r="1.05" fill="#a3002a"/>
<circle cx="355.98" cy="323.61" r="1.05" fill="#a3002a"/>
<circle cx="369.48" cy="319.79" r="1.05" fill="#a3002a"/>
<circle cx="373.59" cy="317.00" r="1.05" fill="#a3002a"/>
<circle cx="373.40" cy="322.21" r="1.05" fill="#a3002a"/>
<circle cx="359.05" cy="317.02" r="1.05" fill="#a3002a"/>
<circle cx="365.82" cy="326.81" r="1.05" fill="#a3002a"/>
<circle cx="361.84" cy="324.92" r="1.05" fill="#a3002a"/>
<circle cx="376.83" cy="313.12" r="1.05" fill="#a3002a"/>
<circle cx="374.90" cy="326.04" r="1.05" fill="#a3002a"/>
<circle cx="362.38" cy="325.84" r="1.05" fill="#a3002a"/>
<circle cx="364.41" cy="329.91" r="1.05" fill="#a3002a"/>
<circle cx="356.24" cy="316.52" r="1.05" fill="#a3002a"/>
<circle cx="362.83" cy="329.93" r="1.05" fill="#a3002a"/>
<circle cx="352.68" cy="315.96" r="1.05" fill="#a3002a"/>
<circle cx="372.45" cy="319.93" r="1.05" fill="#a3002a"/>
<circle cx="371.53" cy="324.89" r="1.05" fill="#a3002a"/>
<circle cx="357.67" cy="317.56" r="1.05" fill="#a3002a"/>
<circle cx="366.96" cy="326.69" r="1.05" fill="#a3002a"/>
<circle cx="361.99" cy="323.17" r="1.05" fill="#a3002a"/>
<circle cx="376.78" cy="327.22" r="1.05" fill="#a3002a"/>
<circle cx="371.72" cy="323.40" r="1.05" fill="#a3002a"/>
<circle cx="378.89" cy="315.47" r="1.05" fill="#a3002a"/>
<circle cx="373.44" cy="322.55" r="1.05" fill="#a3002a"/>
<circle cx="375.13" cy="316.75" r="1.05" fill="#a3002a"/>
<circle cx="369.73" cy="319.65" r="1.05" fill="#a3002a"/>
<circle cx="353.86" cy="316.92" r="1.05" fill="#a3002a"/>
<circle cx="365.26" cy="327.22" r="1.05" fill="#a3002a"/>
<circle cx="360.46" cy="324.22" r="1.05" fill="#a3002a"/>
<circle cx="372.79" cy="323.34" r="1.05" fill="#a3002a"/>
<circle cx="363.64" cy="326.97" r="1.05" fill="#a3002a"/>
<circle cx="364.24" cy="328.34" r="1.05" fill="#a3002a"/>
<circle cx="350.38" cy="319.91" r="1.05" fill="#a3002a"/>
<circle cx="365.11" cy="329.55" r="1.05" fill="#a3002a"/>
<circle cx="356.94" cy="317.96" r="1.05" fill="#a3002a"/>
<circle cx="367.13" cy="328.06" r="1.05" fill="#a3002a"/>
<circle cx="379.24" cy="313.89" r="1.05" fill="#a3002a"/>
<circle cx="366.38" cy="323.01" r="1.05" fill="#a3002a"/>
<circle cx="360.53" cy="325.25" r="1.05" fill="#a3002a"/>
<circle cx="362.75" cy="329.52" r="1.05" fill="#a3002a"/>
<circle cx="368.33" cy="323.95" r="1.05" fill="#a3002a"/>
<circle cx="365.14" cy="328.78" r="1.05" fill="#a3002a"/>
<circle cx="368.26" cy="319.42" r="1.05" fill="#a3002a"/>
<circle cx="366.38" cy="326.04" r="1.05" fill="#a3002a"/>
<circle cx="372.81" cy="323.14" r="1.05" fill="#a3002a"/>
<circle cx="366.03" cy="325.68" r="1.05" fill="#a3002a"/>
<circle cx="364.34" cy="330.31" r="1.05" fill="#a3002a"/>
<circle cx="345.18" cy="319.74" r="1.05" fill="#a3002a"/>
<circle cx="371.43" cy="328.06" r="1.05" fill="#a3002a"/>
<circle cx="366.01" cy="327.46" r="1.05" fill="#a3002a"/>
<circle cx="374.19" cy="322.37" r="1.05" fill="#a3002a"/>
<circle cx="366.20" cy="328.86" r="1.05" fill="#a3002a"/>
<circle cx="370.26" cy="319.24" r="1.05" fill="#a3002a"/>
<circle cx="368.81" cy="323.05" r="1.05" fill="#a3002a"/>
<circle cx="356.71" cy="319.10" r="1.05" fill="#a3002a"/>
<circle cx="360.26" cy="323.13" r="1.05" fill="#a3002a"/>
<circle cx="357.41" cy="327.34" r="1.05" fill="#a3002a"/>
<circle cx="382.23" cy="313.79" r="1.05" fill="#a3002a"/>
<circle cx="371.56" cy="320.01" r="1.05" fill="#a3002a"/>
<circle cx="359.95" cy="325.74" r="1.05" fill="#a3002a"/>
<circle cx="379.02" cy="324.65" r="1.05" fill="#a3002a"/>
<circle cx="364.08" cy="328.90" r="1.05" fill="#a3002a"/>
<circle cx="387.63" cy="313.59" r="1.05" fill="#a3002a"/>
<circle cx="363.93" cy="326.68" r="1.05" fill="#a3002a"/>
<circle cx="374.38" cy="316.39" r="1.05" fill="#a3002a"/>
<circle cx="364.70" cy="329.95" r="1.05" fill="#a3002a"/>
<circle cx="366.02" cy="324.43" r="1.05" fill="#a3002a"/>
<circle cx="372.28" cy="318.35" r="1.05" fill="#a3002a"/>
<circle cx="370.75" cy="321.75" r="1.05" fill="#a3002a"/>
<circle cx="379.85" cy="316.50" r="1.05" fill="#a3002a"/>
<circle cx="367.54" cy="328.53" r="1.05" fill="#a3002a"/>
<circle cx="377.97" cy="318.98" r="1.05" fill="#a3002a"/>
<circle cx="369.01" cy="326.32" r="1.05" fill="#a3002a"/>
<circle cx="360.85" cy="326.90" r="1.05" fill="#a3002a"/>
<circle cx="361.86" cy="326.97" r="1.05" fill="#a3002a"/>
<circle cx="372.26" cy="328.56" r="1.05" fill="#a3002a"/>
<circle cx="373.25" cy="326.16" r="1.05" fill="#a3002a"/>
<circle cx="372.08" cy="325.28" r="1.05" fill="#a3002a"/>
<circle cx="358.18" cy="323.04" r="1.05" fill="#a3002a"/>
<circle cx="379.04" cy="315.10" r="1.05" fill="#a3002a"/>
<circle cx="371.92" cy="322.00" r="1.05" fill="#a3002a"/>
<circle cx="361.61" cy="328.02" r="1.05" fill="#a3002a"/>
<circle cx="359.86" cy="326.74" r="1.05" fill="#a3002a"/>
<circle cx="371.80" cy="322.48" r="1.05" fill="#a3002a"/>
<circle cx="357.93" cy="324.99" r="1.05" fill="#a3002a"/>
<circle cx="352.83" cy="315.30" r="1.05" fill="#a3002a"/>
<circle cx="358.02" cy="321.95" r="1.05" fill="#a3002a"/>
<circle cx="365.52" cy="328.04" r="1.05" fill="#a3002a"/>
<circle cx="352.98" cy="319.94" r="1.05" fill="#a3002a"/>
<circle cx="373.28" cy="324.18" r="1.05" fill="#a3002a"/>
<circle cx="376.27" cy="323.38" r="1.05" fill="#a3002a"/>
<circle cx="365.79" cy="327.45" r="1.05" fill="#a3002a"/>
<circle cx="369.72" cy="320.58" r="1.05" fill="#a3002a"/>
<circle cx="371.86" cy="321.00" r="1.05" fill="#a3002a"/>
<circle cx="365.90" cy="329.70" r="1.05" fill="#a3002a"/>
<circle cx="371.68" cy="317.56" r="1.05" fill="#a3002a"/>
<circle cx="371.60" cy="320.56" r="1.05" fill="#a3002a"/>
<circle cx="358.48" cy="321.47" r="1.05" fill="#a3002a"/>
<circle cx="367.87" cy="326.63" r="1.05" fill="#a3002a"/>
<circle cx="375.15" cy="323.52" r="1.05" fill="#a3002a"/>
<circle cx="352.67" cy="318.32" r="1.05" fill="#a3002a"/>
<circle cx="358.96" cy="323.05" r="1.05" fill="#a3002a"/>
<circle cx="364.98" cy="329.70" r="1.05" fill="#a3002a"/>
<circle cx="371.72" cy="326.34" r="1.05" fill="#a3002a"/>
<circle cx="363.26" cy="322.65" r="1.05" fill="#a3002a"/>
<circle cx="363.78" cy="329.91" r="1.05" fill="#a3002a"/>
<circle cx="372.93" cy="323.95" r="1.05" fill="#a3002a"/>
<circle cx="358.66" cy="327.36" r="1.05" fill="#a3002a"/>
<circle cx="366.41" cy="329.40" r="1.05" fill="#a3002a"/>
<circle cx="362.09" cy="323.11" r="1.05" fill="#a3002a"/>
<circle cx="377.14" cy="312.31" r="1.05" fill="#a3002a"/>
<circle cx="372.86" cy="325.84" r="1.05" fill="#a3002a"/>
<circle cx="367.15" cy="326.69" r="1.05" fill="#a3002a"/>
<circle cx="376.57" cy="323.91" r="1.05" fill="#a3002a"/>
<circle cx="360.87" cy="325.01" r="1.05" fill="#a3002a"/>
<circle cx="370.13" cy="326.58" r="1.05" fill="#a3002a"/>
<circle cx="374.52" cy="317.15" r="1.05" fill="#a3002a"/>
<circle cx="369.74" cy="326.60" r="1.05" fill="#a3002a"/>
<circle cx="361.85" cy="326.50" r="1.05" fill="#a3002a"/>
<circle cx="359.38" cy="328.94" r="1.05" fill="#a3002a"/>
<circle cx="369.47" cy="323.70" r="1.05" fill="#a3002a"/>
<circle cx="357.87" cy="322.85" r="1.05" fill="#a3002a"/>
<circle cx="367.67" cy="323.42" r="1.05" fill="#a3002a"/>
<circle cx="363.12" cy="327.31" r="1.05" fill="#a3002a"/>
<circle cx="358.54" cy="328.05" r="1.05" fill="#a3002a"/>
<circle cx="380.09" cy="326.63" r="1.05" fill="#a3002a"/>
<circle cx="350.59" cy="309.23" r="1.05" fill="#a3002a"/>
<circle cx="372.27" cy="322.65" r="1.05" fill="#a3002a"/>
<circle cx="367.17" cy="323.11" r="1.05" fill="#a3002a"/>
<circle cx="389.22" cy="315.27" r="1.05" fill="#a3002a"/>
<circle cx="366.88" cy="328.04" r="1.05" fill="#a3002a"/>
<circle cx="379.16" cy="316.63" r="1.05" fill="#a3002a"/>
<circle cx="355.86" cy="317.57" r="1.05" fill="#a3002a"/>
<circle cx="363.26" cy="328.95" r="1.05" fill="#a3002a"/>
<circle cx="364.39" cy="330.84" r="1.05" fill="#a3002a"/>
<circle cx="376.46" cy="320.55" r="1.05" fill="#a3002a"/>
<circle cx="364.66" cy="330.89" r="1.05" fill="#a3002a"/>
<circle cx="377.40" cy="311.77" r="1.05" fill="#a3002a"/>
<circle cx="372.89" cy="328.57" r="1.05" fill="#a3002a"/>
<circle cx="356.61" cy="326.52" r="1.05" fill="#a3002a"/>
<circle cx="383.05" cy="324.21" r="1.05" fill="#a3002a"/>
<circle cx="375.19" cy="316.91" r="1.05" fill="#a3002a"/>
<circle cx="380.14" cy="307.73" r="1.05" fill="#a3002a"/>
<circle cx="373.22" cy="320.18" r="1.05" fill="#a3002a"/>
<circle cx="372.32" cy="318.69" r="1.05" fill="#a3002a"/>
<circle cx="370.36" cy="324.90" r="1.05" fill="#a3002a"/>
<circle cx="370.06" cy="322.83" r="1.05" fill="#a3002a"/>
<circle cx="349.58" cy="315.64" r="1.05" fill="#a3002a"/>
<circle cx="364.04" cy="328.72" r="1.05" fill="#a3002a"/>
<circle cx="379.19" cy="309.61" r="1.05" fill="#a3002a"/>
<circle cx="357.04" cy="320.03" r="1.05" fill="#a3002a"/>
<circle cx="376.90" cy="319.48" r="1.05" fill="#a3002a"/>
<circle cx="385.99" cy="311.78" r="1.05" fill="#a3002a"/>
<circle cx="368.30" cy="319.15" r="1.05" fill="#a3002a"/>
<circle cx="359.08" cy="323.18" r="1.05" fill="#a3002a"/>
<circle cx="362.73" cy="328.75" r="1.05" fill="#a3002a"/>
<circle cx="360.04" cy="328.87" r="1.05" fill="#a3002a"/>
<circle cx="357.37" cy="324.95" r="1.05" fill="#a3002a"/>
<circle cx="361.88" cy="324.10" r="1.05" fill="#a3002a"/>
<circle cx="370.19" cy="320.60" r="1.05" fill="#a3002a"/>
<circle cx="363.52" cy="328.94" r="1.05" fill="#a3002a"/>
<circle cx="369.13" cy="327.23" r="1.05" fill="#a3002a"/>
<circle cx="356.12" cy="321.37" r="1.05" fill="#a3002a"/>
<circle cx="370.51" cy="325.83" r="1.05" fill="#a3002a"/>
<circle cx="369.99" cy="323.97" r="1.05" fill="#a3002a"/>
<circle cx="368.99" cy="327.31" r="1.05" fill="#a3002a"/>
<circle cx="357.74" cy="325.02" r="1.05" fill="#a3002a"/>
<circle cx="367.93" cy="324.59" r="1.05" fill="#a3002a"/>
<circle cx="371.31" cy="327.22" r="1.05" fill="#a3002a"/>
<circle cx="381.24" cy="304.70" r="1.05" fill="#a3002a"/>
<circle cx="372.64" cy="324.00" r="1.05" fill="#a3002a"/>
<circle cx="376.83" cy="317.56" r="1.05" fill="#a3002a"/>
<circle cx="355.35" cy="318.78" r="1.05" fill="#a3002a"/>
<circle cx="353.53" cy="321.18" r="1.05" fill="#a3002a"/>
<circle cx="363.54" cy="326.28" r="1.05" fill="#a3002a"/>
<circle cx="369.71" cy="324.05" r="1.05" fill="#a3002a"/>
<circle cx="363.56" cy="328.48" r="1.05" fill="#a3002a"/>
<circle cx="370.47" cy="322.41" r="1.05" fill="#a3002a"/>
<circle cx="367.39" cy="329.24" r="1.05" fill="#a3002a"/>
<circle cx="373.50" cy="321.35" r="1.05" fill="#a3002a"/>
<circle cx="359.52" cy="320.22" r="1.05" fill="#a3002a"/>
<circle cx="370.54" cy="321.40" r="1.05" fill="#a3002a"/>
<circle cx="359.75" cy="324.02" r="1.05" fill="#a3002a"/>
<circle cx="358.95" cy="322.45" r="1.05" fill="#a3002a"/>
<circle cx="366.69" cy="329.67" r="1.05" fill="#a3002a"/>
<circle cx="375.54" cy="323.93" r="1.05" fill="#a3002a"/>
<circle cx="370.66" cy="323.45" r="1.05" fill="#a3002a"/>
<circle cx="383.45" cy="308.53" r="1.05" fill="#a3002a"/>
<circle cx="357.85" cy="328.37" r="1.05" fill="#a3002a"/>
<circle cx="370.35" cy="321.50" r="1.05" fill="#a3002a"/>
<circle cx="376.10" cy="316.68" r="1.05" fill="#a3002a"/>
<circle cx="363.09" cy="328.26" r="1.05" fill="#a3002a"/>
<circle cx="363.73" cy="326.35" r="1.05" fill="#a3002a"/>
<circle cx="357.95" cy="314.67" r="1.05" fill="#a3002a"/>
<circle cx="378.99" cy="316.40" r="1.05" fill="#a3002a"/>
<circle cx="356.63" cy="325.47" r="1.05" fill="#a3002a"/>
<circle cx="377.03" cy="318.02" r="1.05" fill="#a3002a"/>
<circle cx="367.95" cy="327.76" r="1.05" fill="#a3002a"/>
<circle cx="365.08" cy="329.28" r="1.05" fill="#a3002a"/>
<circle cx="363.82" cy="329.41" r="1.05" fill="#a3002a"/>
<circle cx="358.98" cy="320.71" r="1.05" fill="#a3002a"/>
<circle cx="382.98" cy="317.85" r="1.05" fill="#a3002a"/>
<circle cx="358.07" cy="326.56" r="1.05" fill="#a3002a"/>
<circle cx="366.81" cy="329.61" r="1.05" fill="#a3002a"/>
<circle cx="368.73" cy="325.50" r="1.05" fill="#a3002a"/>
<circle cx="365.71" cy="328.98" r="1.05" fill="#a3002a"/>
<circle cx="382.28" cy="304.35" r="1.05" fill="#a3002a"/>
<circle cx="373.18" cy="317.78" r="1.05" fill="#a3002a"/>
<circle cx="359.87" cy="318.51" r="1.05" fill="#a3002a"/>
<circle cx="383.87" cy="315.06" r="1.05" fill="#a3002a"/>
<circle cx="366.17" cy="328.96" r="1.05" fill="#a3002a"/>
<circle cx="370.86" cy="322.91" r="1.05" fill="#a3002a"/>
<circle cx="356.56" cy="325.78" r="1.05" fill="#a3002a"/>
<circle cx="364.73" cy="329.08" r="1.05" fill="#a3002a"/>
<circle cx="369.61" cy="326.44" r="1.05" fill="#a3002a"/>
<circle cx="372.60" cy="316.96" r="1.05" fill="#a3002a"/>
<circle cx="362.04" cy="330.33" r="1.05" fill="#a3002a"/>
<circle cx="369.96" cy="326.45" r="1.05" fill="#a3002a"/>
<circle cx="371.98" cy="320.97" r="1.05" fill="#a3002a"/>
<circle cx="380.04" cy="318.79" r="1.05" fill="#a3002a"/>
<circle cx="376.01" cy="326.61" r="1.05" fill="#a3002a"/>
<circle cx="370.21" cy="325.45" r="1.05" fill="#a3002a"/>
<circle cx="362.52" cy="325.70" r="1.05" fill="#a3002a"/>
<circle cx="353.04" cy="316.59" r="1.05" fill="#a3002a"/>
<circle cx="365.48" cy="327.36" r="1.05" fill="#a3002a"/>
<circle cx="361.35" cy="318.97" r="1.05" fill="#a3002a"/>
<circle cx="373.44" cy="323.87" r="1.05" fill="#a3002a"/>
<circle cx="356.34" cy="325.69" r="1.05" fill="#a3002a"/>
<circle cx="363.09" cy="326.42" r="1.05" fill="#a3002a"/>
<circle cx="361.63" cy="326.16" r="1.05" fill="#a3002a"/>
<circle cx="348.80" cy="310.57" r="1.05" fill="#a3002a"/>
<circle cx="366.60" cy="323.59" r="1.05" fill="#a3002a"/>
<circle cx="361.67" cy="323.11" r="1.05" fill="#a3002a"/>
<circle cx="358.24" cy="319.73" r="1.05" fill="#a3002a"/>
<circle cx="358.42" cy="318.77" r="1.05" fill="#a3002a"/>
<circle cx="369.58" cy="328.94" r="1.05" fill="#a3002a"/>
<circle cx="380.86" cy="317.79" r="1.05" fill="#a3002a"/>
<circle cx="364.55" cy="331.07" r="1.05" fill="#a3002a"/>
<circle cx="360.76" cy="322.84" r="1.05" fill="#a3002a"/>
<circle cx="350.71" cy="315.38" r="1.05" fill="#a3002a"/>
<circle cx="370.95" cy="320.96" r="1.05" fill="#a3002a"/>
<circle cx="355.38" cy="317.77" r="1.05" fill="#a3002a"/>
<circle cx="353.56" cy="318.89" r="1.05" fill="#a3002a"/>
<circle cx="348.64" cy="321.79" r="1.05" fill="#a3002a"/>
<circle cx="371.49" cy="326.46" r="1.05" fill="#a3002a"/>
<circle cx="381.85" cy="320.29" r="1.05" fill="#a3002a"/>
<circle cx="382.78" cy="319.39" r="1.05" fill="#a3002a"/>
<circle cx="364.65" cy="329.89" r="1.05" fill="#a3002a"/>
<circle cx="373.92" cy="321.15" r="1.05" fill="#a3002a"/>
<circle cx="371.47" cy="322.82" r="1.05" fill="#a3002a"/>
<circle cx="370.51" cy="317.78" r="1.05" fill="#a3002a"/>
<circle cx="368.59" cy="329.68" r="1.05" fill="#a3002a"/>
<circle cx="372.99" cy="323.61" r="1.05" fill="#a3002a"/>
<circle cx="358.69" cy="327.06" r="1.05" fill="#a3002a"/>
<circle cx="371.07" cy="321.09" r="1.05" fill="#a3002a"/>
<circle cx="366.81" cy="323.01" r="1.05" fill="#a3002a"/>
<circle cx="356.58" cy="322.04" r="1.05" fill="#a3002a"/>
<circle cx="368.27" cy="326.99" r="1.05" fill="#a3002a"/>
<circle cx="372.41" cy="323.89" r="1.05" fill="#a3002a"/>
<circle cx="361.62" cy="325.07" r="1.05" fill="#a3002a"/>
<circle cx="352.47" cy="320.69" r="1.05" fill="#a3002a"/>
<circle cx="365.89" cy="328.38" r="1.05" fill="#a3002a"/>
<circle cx="380.98" cy="321.40" r="1.05" fill="#a3002a"/>
<circle cx="363.50" cy="327.75" r="1.05" fill="#a3002a"/>
<circle cx="366.31" cy="323.58" r="1.05" fill="#a3002a"/>
<circle cx="367.05" cy="327.05" r="1.05" fill="#a3002a"/>
<circle cx="363.77" cy="326.00" r="1.05" fill="#a3002a"/>
<circle cx="380.78" cy="315.61" r="1.05" fill="#a3002a"/>
<circle cx="374.06" cy="319.52" r="1.05" fill="#a3002a"/>
<circle cx="366.62" cy="328.80" r="1.05" fill="#a3002a"/>
<circle cx="346.94" cy="306.15" r="1.05" fill="#a3002a"/>
<circle cx="367.50" cy="320.80" r="1.05" fill="#a3002a"/>
<circle cx="370.20" cy="318.23" r="1.05" fill="#a3002a"/>
<circle cx="366.73" cy="327.44" r="1.05" fill="#a3002a"/>
<circle cx="355.48" cy="327.37" r="1.05" fill="#a3002a"/>
<circle cx="371.49" cy="323.89" r="1.05" fill="#a3002a"/>
<circle cx="368.88" cy="328.34" r="1.05" fill="#a3002a"/>
<circle cx="360.84" cy="326.21" r="1.05" fill="#a3002a"/>
<circle cx="358.66" cy="324.00" r="1.05" fill="#a3002a"/>
<circle cx="373.74" cy="321.77" r="1.05" fill="#a3002a"/>
<circle cx="365.57" cy="327.09" r="1.05" fill="#a3002a"/>
<circle cx="365.23" cy="329.79" r="1.05" fill="#a3002a"/>
<circle cx="368.83" cy="321.07" r="1.05" fill="#a3002a"/>
<circle cx="355.72" cy="313.37" r="1.05" fill="#a3002a"/>
<circle cx="365.33" cy="329.88" r="1.05" fill="#a3002a"/>
<circle cx="379.93" cy="316.09" r="1.05" fill="#a3002a"/>
<circle cx="369.07" cy="325.34" r="1.05" fill="#a3002a"/>
<circle cx="356.97" cy="323.59" r="1.05" fill="#a3002a"/>
<circle cx="351.52" cy="311.18" r="1.05" fill="#a3002a"/>
<circle cx="359.44" cy="325.57" r="1.05" fill="#a3002a"/>
<circle cx="367.88" cy="330.06" r="1.05" fill="#a3002a"/>
<circle cx="354.92" cy="312.72" r="1.05" fill="#a3002a"/>
<circle cx="381.05" cy="323.29" r="1.05" fill="#a3002a"/>
<circle cx="361.24" cy="324.03" r="1.05" fill="#a3002a"/>
<circle cx="365.95" cy="329.63" r="1.05" fill="#a3002a"/>
<circle cx="366.66" cy="326.21" r="1.05" fill="#a3002a"/>
<circle cx="384.16" cy="317.27" r="1.05" fill="#a3002a"/>
<circle cx="362.85" cy="326.49" r="1.05" fill="#a3002a"/>
<circle cx="362.22" cy="326.13" r="1.05" fill="#a3002a"/>
<circle cx="350.76" cy="321.82" r="1.05" fill="#a3002a"/>
<circle cx="356.31" cy="318.59" r="1.05" fill="#a3002a"/>
<circle cx="362.48" cy="325.02" r="1.05" fill="#a3002a"/>
<circle cx="359.94" cy="322.96" r="1.05" fill="#a3002a"/>
<circle cx="374.36" cy="318.06" r="1.05" fill="#a3002a"/>
<circle cx="367.64" cy="324.79" r="1.05" fill="#a3002a"/>
<circle cx="362.96" cy="326.58" r="1.05" fill="#a3002a"/>
<circle cx="368.97" cy="324.58" r="1.05" fill="#a3002a"/>
<circle cx="364.10" cy="330.18" r="1.05" fill="#a3002a"/>
<circle cx="369.36" cy="328.50" r="1.05" fill="#a3002a"/>
<circle cx="360.34" cy="318.64" r="1.05" fill="#a3002a"/>
<circle cx="367.06" cy="323.67" r="1.05" fill="#a3002a"/>
<circle cx="364.93" cy="330.05" r="1.05" fill="#a3002a"/>
<circle cx="362.23" cy="325.53" r="1.05" fill="#a3002a"/>
<circle cx="382.09" cy="317.90" r="1.05" fill="#a3002a"/>
<circle cx="369.75" cy="325.21" r="1.05" fill="#a3002a"/>
<circle cx="377.07" cy="323.08" r="1.05" fill="#a3002a"/>
<circle cx="379.15" cy="320.15" r="1.05" fill="#a3002a"/>
<circle cx="362.10" cy="322.35" r="1.05" fill="#a3002a"/>
<circle cx="363.37" cy="329.27" r="1.05" fill="#a3002a"/>
<circle cx="367.39" cy="328.19" r="1.05" fill="#a3002a"/>
<circle cx="358.32" cy="322.47" r="1.05" fill="#a3002a"/>
<circle cx="370.90" cy="328.66" r="1.05" fill="#a3002a"/>
<circle cx="382.83" cy="321.54" r="1.05" fill="#a3002a"/>
<circle cx="375.72" cy="312.27" r="1.05" fill="#a3002a"/>
<circle cx="353.92" cy="318.48" r="1.05" fill="#a3002a"/>
<circle cx="371.20" cy="314.01" r="1.05" fill="#a3002a"/>
<circle cx="360.53" cy="324.88" r="1.05" fill="#a3002a"/>
<circle cx="368.49" cy="323.95" r="1.05" fill="#a3002a"/>
<circle cx="370.02" cy="326.40" r="1.05" fill="#a3002a"/>
<circle cx="361.86" cy="324.47" r="1.05" fill="#a3002a"/>
<circle cx="355.96" cy="322.36" r="1.05" fill="#a3002a"/>
<circle cx="363.24" cy="329.31" r="1.05" fill="#a3002a"/>
<circle cx="377.86" cy="322.10" r="1.05" fill="#a3002a"/>
<circle cx="348.91" cy="325.89" r="1.05" fill="#a3002a"/>
<circle cx="372.50" cy="319.05" r="1.05" fill="#a3002a"/>
<circle cx="367.45" cy="327.57" r="1.05" fill="#a3002a"/>
<circle cx="352.18" cy="312.19" r="1.05" fill="#a3002a"/>
<circle cx="368.35" cy="322.32" r="1.05" fill="#a3002a"/>
<circle cx="368.78" cy="319.36" r="1.05" fill="#a3002a"/>
<circle cx="366.74" cy="323.72" r="1.05" fill="#a3002a"/>
<circle cx="372.82" cy="322.94" r="1.05" fill="#a3002a"/>
<circle cx="373.31" cy="327.97" r="1.05" fill="#a3002a"/>
<circle cx="367.48" cy="324.17" r="1.05" fill="#a3002a"/>
<circle cx="365.03" cy="328.51" r="1.05" fill="#a3002a"/>
<circle cx="368.34" cy="319.48" r="1.05" fill="#a3002a"/>
<circle cx="368.87" cy="329.90" r="1.05" fill="#a3002a"/>
<circle cx="376.37" cy="313.40" r="1.05" fill="#a3002a"/>
<circle cx="378.01" cy="320.41" r="1.05" fill="#a3002a"/>
<circle cx="363.74" cy="327.50" r="1.05" fill="#a3002a"/>
<circle cx="363.07" cy="329.24" r="1.05" fill="#a3002a"/>
<circle cx="362.54" cy="324.01" r="1.05" fill="#a3002a"/>
<circle cx="364.07" cy="330.39" r="1.05" fill="#a3002a"/>
<circle cx="380.47" cy="325.41" r="1.05" fill="#a3002a"/>
<circle cx="369.67" cy="319.94" r="1.05" fill="#a3002a"/>
<circle cx="365.38" cy="330.25" r="1.05" fill="#a3002a"/>
<circle cx="374.97" cy="322.09" r="1.05" fill="#a3002a"/>
<circle cx="382.00" cy="313.33" r="1.05" fill="#a3002a"/>
<circle cx="357.23" cy="324.02" r="1.05" fill="#a3002a"/>
<circle cx="352.35" cy="316.22" r="1.05" fill="#a3002a"/>
<circle cx="366.59" cy="327.43" r="1.05" fill="#a3002a"/>
<circle cx="362.30" cy="327.44" r="1.05" fill="#a3002a"/>
<circle cx="382.50" cy="318.91" r="1.05" fill="#a3002a"/>
<circle cx="374.68" cy="322.51" r="1.05" fill="#a3002a"/>
<circle cx="377.43" cy="325.68" r="1.05" fill="#a3002a"/>
<circle cx="369.30" cy="325.93" r="1.05" fill="#a3002a"/>
<circle cx="358.68" cy="327.01" r="1.05" fill="#a3002a"/>
<circle cx="373.76" cy="313.00" r="1.05" fill="#a3002a"/>
<circle cx="427.48" cy="281.99" r="1.05" fill="#a3002a"/>
<circle cx="395.29" cy="293.68" r="1.05" fill="#a3002a"/>
<circle cx="394.20" cy="306.29" r="1.05" fill="#a3002a"/>
<circle cx="376.68" cy="311.04" r="1.05" fill="#a3002a"/>
<circle cx="383.58" cy="308.70" r="1.05" fill="#a3002a"/>
<circle cx="405.96" cy="295.54" r="1.05" fill="#a3002a"/>
<circle cx="402.57" cy="305.43" r="1.05" fill="#a3002a"/>
<circle cx="384.75" cy="316.01" r="1.05" fill="#a3002a"/>
<circle cx="387.60" cy="308.15" r="1.05" fill="#a3002a"/>
<circle cx="381.72" cy="320.39" r="1.05" fill="#a3002a"/>
<circle cx="397.55" cy="307.71" r="1.05" fill="#a3002a"/>
<circle cx="373.96" cy="326.90" r="1.05" fill="#a3002a"/>
<circle cx="421.37" cy="291.09" r="1.05" fill="#a3002a"/>
<circle cx="378.23" cy="326.12" r="1.05" fill="#a3002a"/>
<circle cx="374.60" cy="321.75" r="1.05" fill="#a3002a"/>
<circle cx="397.65" cy="299.26" r="1.05" fill="#a3002a"/>
<circle cx="384.64" cy="321.06" r="1.05" fill="#a3002a"/>
<circle cx="385.95" cy="305.79" r="1.05" fill="#a3002a"/>
<circle cx="412.05" cy="299.15" r="1.05" fill="#a3002a"/>
<circle cx="407.59" cy="310.69" r="1.05" fill="#a3002a"/>
<circle cx="382.05" cy="321.05" r="1.05" fill="#a3002a"/>
<circle cx="402.89" cy="303.96" r="1.05" fill="#a3002a"/>
<circle cx="383.48" cy="310.88" r="1.05" fill="#a3002a"/>
<circle cx="382.30" cy="320.19" r="1.05" fill="#a3002a"/>
<circle cx="399.40" cy="300.35" r="1.05" fill="#a3002a"/>
<circle cx="374.37" cy="323.93" r="1.05" fill="#a3002a"/>
<circle cx="375.82" cy="323.42" r="1.05" fill="#a3002a"/>
<circle cx="387.97" cy="307.87" r="1.05" fill="#a3002a"/>
<circle cx="411.09" cy="291.87" r="1.05" fill="#a3002a"/>
<circle cx="379.70" cy="322.71" r="1.05" fill="#a3002a"/>
<circle cx="377.96" cy="315.27" r="1.05" fill="#a3002a"/>
<circle cx="393.88" cy="304.78" r="1.05" fill="#a3002a"/>
<circle cx="375.32" cy="326.46" r="1.05" fill="#a3002a"/>
<circle cx="407.72" cy="287.82" r="1.05" fill="#a3002a"/>
<circle cx="377.02" cy="323.28" r="1.05" fill="#a3002a"/>
<circle cx="378.39" cy="311.54" r="1.05" fill="#a3002a"/>
<circle cx="392.78" cy="309.88" r="1.05" fill="#a3002a"/>
<circle cx="380.53" cy="309.65" r="1.05" fill="#a3002a"/>
<circle cx="397.91" cy="299.19" r="1.05" fill="#a3002a"/>
<circle cx="374.10" cy="325.29" r="1.05" fill="#a3002a"/>
<circle cx="386.91" cy="303.52" r="1.05" fill="#a3002a"/>
<circle cx="385.99" cy="319.04" r="1.05" fill="#a3002a"/>
<circle cx="376.70" cy="323.41" r="1.05" fill="#a3002a"/>
<circle cx="379.48" cy="319.34" r="1.05" fill="#a3002a"/>
<circle cx="380.89" cy="321.77" r="1.05" fill="#a3002a"/>
<circle cx="375.71" cy="322.44" r="1.05" fill="#a3002a"/>
<circle cx="380.21" cy="318.46" r="1.05" fill="#a3002a"/>
<circle cx="378.57" cy="315.32" r="1.05" fill="#a3002a"/>
<circle cx="382.50" cy="321.51" r="1.05" fill="#a3002a"/>
<circle cx="393.23" cy="313.46" r="1.05" fill="#a3002a"/>
<circle cx="394.21" cy="308.09" r="1.05" fill="#a3002a"/>
<circle cx="375.67" cy="327.71" r="1.05" fill="#a3002a"/>
<circle cx="385.05" cy="304.79" r="1.05" fill="#a3002a"/>
<circle cx="401.11" cy="302.81" r="1.05" fill="#a3002a"/>
<circle cx="377.61" cy="319.81" r="1.05" fill="#a3002a"/>
<circle cx="375.76" cy="317.39" r="1.05" fill="#a3002a"/>
<circle cx="404.48" cy="291.14" r="1.05" fill="#a3002a"/>
<circle cx="375.99" cy="320.64" r="1.05" fill="#a3002a"/>
<circle cx="388.70" cy="317.07" r="1.05" fill="#a3002a"/>
<circle cx="385.46" cy="314.03" r="1.05" fill="#a3002a"/>
<circle cx="387.05" cy="300.57" r="1.05" fill="#a3002a"/>
<circle cx="400.83" cy="312.67" r="1.05" fill="#a3002a"/>
<circle cx="381.71" cy="315.73" r="1.05" fill="#a3002a"/>
<circle cx="390.36" cy="304.74" r="1.05" fill="#a3002a"/>
<circle cx="377.64" cy="319.40" r="1.05" fill="#a3002a"/>
<circle cx="390.23" cy="310.67" r="1.05" fill="#a3002a"/>
<circle cx="380.11" cy="315.39" r="1.05" fill="#a3002a"/>
<circle cx="395.05" cy="301.23" r="1.05" fill="#a3002a"/>
<circle cx="407.74" cy="285.34" r="1.05" fill="#a3002a"/>
<circle cx="376.29" cy="317.84" r="1.05" fill="#a3002a"/>
<circle cx="378.94" cy="323.02" r="1.05" fill="#a3002a"/>
<circle cx="374.43" cy="316.46" r="1.05" fill="#a3002a"/>
<circle cx="377.57" cy="322.85" r="1.05" fill="#a3002a"/>
<circle cx="408.13" cy="278.92" r="1.05" fill="#a3002a"/>
<circle cx="392.51" cy="311.08" r="1.05" fill="#a3002a"/>
<circle cx="387.75" cy="312.20" r="1.05" fill="#a3002a"/>
<circle cx="387.48" cy="305.47" r="1.05" fill="#a3002a"/>
<circle cx="385.81" cy="309.57" r="1.05" fill="#a3002a"/>
<circle cx="377.58" cy="314.81" r="1.05" fill="#a3002a"/>
<circle cx="380.18" cy="311.31" r="1.05" fill="#a3002a"/>
<circle cx="393.75" cy="299.06" r="1.05" fill="#a3002a"/>
<circle cx="388.40" cy="306.46" r="1.05" fill="#a3002a"/>
<circle cx="402.48" cy="295.41" r="1.05" fill="#a3002a"/>
<circle cx="376.08" cy="324.08" r="1.05" fill="#a3002a"/>
<circle cx="381.13" cy="313.69" r="1.05" fill="#a3002a"/>
<circle cx="390.05" cy="303.95" r="1.05" fill="#a3002a"/>
<circle cx="397.52" cy="297.26" r="1.05" fill="#a3002a"/>
<circle cx="411.05" cy="300.12" r="1.05" fill="#a3002a"/>
<circle cx="383.67" cy="321.19" r="1.05" fill="#a3002a"/>
<circle cx="379.92" cy="309.45" r="1.05" fill="#a3002a"/>
<circle cx="397.15" cy="294.06" r="1.05" fill="#a3002a"/>
<circle cx="382.99" cy="310.53" r="1.05" fill="#a3002a"/>
<circle cx="393.91" cy="304.52" r="1.05" fill="#a3002a"/>
<circle cx="381.73" cy="312.28" r="1.05" fill="#a3002a"/>
<circle cx="376.26" cy="319.82" r="1.05" fill="#a3002a"/>
<circle cx="379.83" cy="313.06" r="1.05" fill="#a3002a"/>
<circle cx="376.66" cy="321.01" r="1.05" fill="#a3002a"/>
<circle cx="398.20" cy="294.03" r="1.05" fill="#a3002a"/>
<circle cx="413.55" cy="283.21" r="1.05" fill="#a3002a"/>
<circle cx="412.09" cy="293.89" r="1.05" fill="#a3002a"/>
<circle cx="383.90" cy="312.48" r="1.05" fill="#a3002a"/>
<circle cx="382.57" cy="318.87" r="1.05" fill="#a3002a"/>
<circle cx="394.59" cy="309.40" r="1.05" fill="#a3002a"/>
<circle cx="379.62" cy="322.91" r="1.05" fill="#a3002a"/>
<circle cx="376.17" cy="319.85" r="1.05" fill="#a3002a"/>
<circle cx="384.45" cy="310.92" r="1.05" fill="#a3002a"/>
<circle cx="390.69" cy="306.87" r="1.05" fill="#a3002a"/>
<circle cx="420.67" cy="263.84" r="1.05" fill="#a3002a"/>
<circle cx="391.72" cy="300.08" r="1.05" fill="#a3002a"/>
<circle cx="394.38" cy="301.55" r="1.05" fill="#a3002a"/>
<circle cx="379.03" cy="314.22" r="1.05" fill="#a3002a"/>
<circle cx="390.74" cy="304.92" r="1.05" fill="#a3002a"/>
<circle cx="373.83" cy="329.94" r="1.05" fill="#a3002a"/>
<circle cx="374.60" cy="322.10" r="1.05" fill="#a3002a"/>
<circle cx="382.68" cy="319.52" r="1.05" fill="#a3002a"/>
<circle cx="392.50" cy="301.43" r="1.05" fill="#a3002a"/>
<circle cx="390.15" cy="305.48" r="1.05" fill="#a3002a"/>
<circle cx="374.39" cy="324.97" r="1.05" fill="#a3002a"/>
<circle cx="401.45" cy="311.18" r="1.05" fill="#a3002a"/>
<circle cx="373.91" cy="329.94" r="1.05" fill="#a3002a"/>
<circle cx="385.84" cy="312.18" r="1.05" fill="#a3002a"/>
<circle cx="378.98" cy="322.91" r="1.05" fill="#a3002a"/>
<circle cx="401.56" cy="285.90" r="1.05" fill="#a3002a"/>
<circle cx="417.79" cy="277.84" r="1.05" fill="#a3002a"/>
<circle cx="392.08" cy="298.36" r="1.05" fill="#a3002a"/>
<circle cx="388.45" cy="306.17" r="1.05" fill="#a3002a"/>
<circle cx="377.37" cy="319.26" r="1.05" fill="#a3002a"/>
<circle cx="393.45" cy="301.03" r="1.05" fill="#a3002a"/>
<circle cx="393.00" cy="313.84" r="1.05" fill="#a3002a"/>
<circle cx="380.62" cy="317.41" r="1.05" fill="#a3002a"/>
<circle cx="390.55" cy="299.62" r="1.05" fill="#a3002a"/>
<circle cx="397.71" cy="308.02" r="1.05" fill="#a3002a"/>
<circle cx="385.43" cy="312.97" r="1.05" fill="#a3002a"/>
<circle cx="388.72" cy="305.00" r="1.05" fill="#a3002a"/>
<circle cx="385.44" cy="312.41" r="1.05" fill="#a3002a"/>
<circle cx="383.23" cy="320.29" r="1.05" fill="#a3002a"/>
<circle cx="404.68" cy="291.50" r="1.05" fill="#a3002a"/>
<circle cx="399.83" cy="304.50" r="1.05" fill="#a3002a"/>
<circle cx="381.23" cy="317.50" r="1.05" fill="#a3002a"/>
<circle cx="386.88" cy="310.09" r="1.05" fill="#a3002a"/>
<circle cx="387.61" cy="310.35" r="1.05" fill="#a3002a"/>
<circle cx="391.24" cy="312.05" r="1.05" fill="#a3002a"/>
<circle cx="379.42" cy="322.90" r="1.05" fill="#a3002a"/>
<circle cx="410.54" cy="307.28" r="1.05" fill="#a3002a"/>
<circle cx="393.24" cy="299.26" r="1.05" fill="#a3002a"/>
<circle cx="396.02" cy="305.23" r="1.05" fill="#a3002a"/>
<circle cx="413.31" cy="300.80" r="1.05" fill="#a3002a"/>
<circle cx="378.38" cy="316.55" r="1.05" fill="#a3002a"/>
<circle cx="376.19" cy="317.42" r="1.05" fill="#a3002a"/>
<circle cx="389.43" cy="303.48" r="1.05" fill="#a3002a"/>
<circle cx="397.18" cy="301.41" r="1.05" fill="#a3002a"/>
<circle cx="373.53" cy="317.71" r="1.05" fill="#a3002a"/>
<circle cx="381.45" cy="312.02" r="1.05" fill="#a3002a"/>
<circle cx="395.53" cy="295.74" r="1.05" fill="#a3002a"/>
<circle cx="380.21" cy="308.69" r="1.05" fill="#a3002a"/>
<circle cx="375.43" cy="320.92" r="1.05" fill="#a3002a"/>
<circle cx="393.78" cy="299.01" r="1.05" fill="#a3002a"/>
<circle cx="375.51" cy="320.65" r="1.05" fill="#a3002a"/>
<circle cx="384.92" cy="309.10" r="1.05" fill="#a3002a"/>
<circle cx="374.97" cy="318.79" r="1.05" fill="#a3002a"/>
<circle cx="407.43" cy="286.62" r="1.05" fill="#a3002a"/>
<circle cx="373.84" cy="320.33" r="1.05" fill="#a3002a"/>
<circle cx="406.80" cy="291.76" r="1.05" fill="#a3002a"/>
<circle cx="378.37" cy="318.35" r="1.05" fill="#a3002a"/>
<circle cx="374.36" cy="315.64" r="1.05" fill="#a3002a"/>
<circle cx="383.21" cy="318.80" r="1.05" fill="#a3002a"/>
<circle cx="405.14" cy="283.66" r="1.05" fill="#a3002a"/>
<circle cx="394.21" cy="305.40" r="1.05" fill="#a3002a"/>
<circle cx="390.96" cy="299.26" r="1.05" fill="#a3002a"/>
<circle cx="385.68" cy="308.81" r="1.05" fill="#a3002a"/>
<circle cx="375.29" cy="320.74" r="1.05" fill="#a3002a"/>
<circle cx="382.36" cy="320.30" r="1.05" fill="#a3002a"/>
<circle cx="380.26" cy="316.11" r="1.05" fill="#a3002a"/>
<circle cx="396.99" cy="313.26" r="1.05" fill="#a3002a"/>
<circle cx="389.77" cy="309.19" r="1.05" fill="#a3002a"/>
<circle cx="373.44" cy="324.44" r="1.05" fill="#a3002a"/>
<circle cx="399.21" cy="310.30" r="1.05" fill="#a3002a"/>
<circle cx="388.15" cy="301.31" r="1.05" fill="#a3002a"/>
<circle cx="413.41" cy="286.46" r="1.05" fill="#a3002a"/>
<circle cx="381.51" cy="311.79" r="1.05" fill="#a3002a"/>
<circle cx="373.98" cy="320.72" r="1.05" fill="#a3002a"/>
<circle cx="375.90" cy="325.22" r="1.05" fill="#a3002a"/>
<circle cx="389.93" cy="312.60" r="1.05" fill="#a3002a"/>
<circle cx="377.77" cy="319.21" r="1.05" fill="#a3002a"/>
<circle cx="386.76" cy="302.87" r="1.05" fill="#a3002a"/>
<circle cx="387.95" cy="306.06" r="1.05" fill="#a3002a"/>
<circle cx="381.65" cy="321.78" r="1.05" fill="#a3002a"/>
<circle cx="385.84" cy="301.89" r="1.05" fill="#a3002a"/>
<circle cx="404.20" cy="286.94" r="1.05" fill="#a3002a"/>
<circle cx="355.75" cy="316.83" r="1.05" fill="#a3002a"/>
<circle cx="345.22" cy="310.84" r="1.05" fill="#a3002a"/>
<circle cx="356.32" cy="323.57" r="1.05" fill="#a3002a"/>
<circle cx="354.55" cy="321.87" r="1.05" fill="#a3002a"/>
<circle cx="351.16" cy="318.77" r="1.05" fill="#a3002a"/>
<circle cx="347.03" cy="314.14" r="1.05" fill="#a3002a"/>
<circle cx="344.51" cy="312.46" r="1.05" fill="#a3002a"/>
<circle cx="351.31" cy="315.61" r="1.05" fill="#a3002a"/>
<circle cx="345.30" cy="314.37" r="1.05" fill="#a3002a"/>
<circle cx="354.21" cy="320.61" r="1.05" fill="#a3002a"/>
<circle cx="345.82" cy="310.75" r="1.05" fill="#a3002a"/>
<circle cx="355.15" cy="321.39" r="1.05" fill="#a3002a"/>
<circle cx="342.88" cy="301.56" r="1.05" fill="#a3002a"/>
<circle cx="355.25" cy="319.80" r="1.05" fill="#a3002a"/>
<circle cx="348.45" cy="309.42" r="1.05" fill="#a3002a"/>
<circle cx="346.12" cy="309.95" r="1.05" fill="#a3002a"/>
<circle cx="342.94" cy="313.84" r="1.05" fill="#a3002a"/>
<circle cx="348.29" cy="312.16" r="1.05" fill="#a3002a"/>
<circle cx="348.75" cy="318.88" r="1.05" fill="#a3002a"/>
<circle cx="339.54" cy="304.29" r="1.05" fill="#a3002a"/>
<circle cx="355.67" cy="323.72" r="1.05" fill="#a3002a"/>
<circle cx="351.72" cy="320.41" r="1.05" fill="#a3002a"/>
<circle cx="353.30" cy="317.94" r="1.05" fill="#a3002a"/>
<circle cx="345.47" cy="306.81" r="1.05" fill="#a3002a"/>
<circle cx="356.42" cy="326.63" r="1.05" fill="#a3002a"/>
<circle cx="354.39" cy="326.14" r="1.05" fill="#a3002a"/>
<circle cx="346.95" cy="317.16" r="1.05" fill="#a3002a"/>
<circle cx="351.46" cy="315.52" r="1.05" fill="#a3002a"/>
<circle cx="355.73" cy="324.77" r="1.05" fill="#a3002a"/>
<circle cx="342.12" cy="307.12" r="1.05" fill="#a3002a"/>
<circle cx="355.07" cy="324.58" r="1.05" fill="#a3002a"/>
<circle cx="348.70" cy="319.04" r="1.05" fill="#a3002a"/>
<circle cx="354.30" cy="323.50" r="1.05" fill="#a3002a"/>
<circle cx="333.88" cy="303.16" r="1.05" fill="#a3002a"/>
<circle cx="342.14" cy="301.26" r="1.05" fill="#a3002a"/>
<circle cx="354.70" cy="316.40" r="1.05" fill="#a3002a"/>
<circle cx="335.69" cy="303.58" r="1.05" fill="#a3002a"/>
<circle cx="346.48" cy="313.08" r="1.05" fill="#a3002a"/>
<circle cx="349.36" cy="314.19" r="1.05" fill="#a3002a"/>
<circle cx="350.73" cy="312.97" r="1.05" fill="#a3002a"/>
<circle cx="351.87" cy="329.72" r="1.05" fill="#a3002a"/>
<circle cx="347.18" cy="311.82" r="1.05" fill="#a3002a"/>
<circle cx="348.56" cy="321.82" r="1.05" fill="#a3002a"/>
<circle cx="349.81" cy="313.65" r="1.05" fill="#a3002a"/>
<circle cx="350.10" cy="324.85" r="1.05" fill="#a3002a"/>
<circle cx="351.11" cy="314.43" r="1.05" fill="#a3002a"/>
<circle cx="348.76" cy="310.95" r="1.05" fill="#a3002a"/>
<circle cx="353.16" cy="320.18" r="1.05" fill="#a3002a"/>
<circle cx="349.58" cy="320.12" r="1.05" fill="#a3002a"/>
<circle cx="343.48" cy="303.45" r="1.05" fill="#a3002a"/>
<circle cx="356.27" cy="319.67" r="1.05" fill="#a3002a"/>
<circle cx="353.72" cy="319.86" r="1.05" fill="#a3002a"/>
<circle cx="352.42" cy="319.02" r="1.05" fill="#a3002a"/>
<circle cx="352.02" cy="319.20" r="1.05" fill="#a3002a"/>
<circle cx="356.28" cy="322.48" r="1.05" fill="#a3002a"/>
<circle cx="370.28" cy="298.78" r="1.05" fill="#a3002a"/>
<circle cx="355.92" cy="315.38" r="1.05" fill="#a3002a"/>
<circle cx="364.13" cy="311.04" r="1.05" fill="#a3002a"/>
<circle cx="371.21" cy="320.09" r="1.05" fill="#a3002a"/>
<circle cx="368.58" cy="322.10" r="1.05" fill="#a3002a"/>
<circle cx="358.61" cy="310.72" r="1.05" fill="#a3002a"/>
<circle cx="361.58" cy="315.70" r="1.05" fill="#a3002a"/>
<circle cx="368.09" cy="306.70" r="1.05" fill="#a3002a"/>
<circle cx="376.13" cy="316.82" r="1.05" fill="#a3002a"/>
<circle cx="365.89" cy="322.33" r="1.05" fill="#a3002a"/>
<circle cx="363.49" cy="312.75" r="1.05" fill="#a3002a"/>
<circle cx="370.91" cy="312.10" r="1.05" fill="#a3002a"/>
<circle cx="365.15" cy="300.31" r="1.05" fill="#a3002a"/>
<circle cx="370.37" cy="299.87" r="1.05" fill="#a3002a"/>
<circle cx="363.25" cy="309.20" r="1.05" fill="#a3002a"/>
<circle cx="349.10" cy="304.95" r="1.05" fill="#a3002a"/>
<circle cx="355.75" cy="302.34" r="1.05" fill="#a3002a"/>
<circle cx="369.96" cy="305.80" r="1.05" fill="#a3002a"/>
<circle cx="368.97" cy="314.67" r="1.05" fill="#a3002a"/>
<circle cx="356.17" cy="303.44" r="1.05" fill="#a3002a"/>
<circle cx="370.33" cy="319.06" r="1.05" fill="#a3002a"/>
<circle cx="362.70" cy="322.94" r="1.05" fill="#a3002a"/>
<circle cx="366.15" cy="318.18" r="1.05" fill="#a3002a"/>
<circle cx="370.69" cy="319.05" r="1.05" fill="#a3002a"/>
<circle cx="364.14" cy="299.56" r="1.05" fill="#a3002a"/>
<circle cx="311.90" cy="297.20" r="1.05" fill="#a3002a"/>
<circle cx="319.20" cy="309.70" r="1.05" fill="#a3002a"/>
<circle cx="323.20" cy="309.20" r="1.05" fill="#a3002a"/>
<circle cx="325.00" cy="307.20" r="1.05" fill="#a3002a"/>
<circle cx="319.90" cy="315.10" r="1.05" fill="#a3002a"/>
<circle cx="338.80" cy="301.50" r="1.05" fill="#a3002a"/>
<circle cx="337.30" cy="305.80" r="1.05" fill="#a3002a"/>
<circle cx="336.10" cy="310.80" r="1.05" fill="#a3002a"/>
<circle cx="338.50" cy="309.20" r="1.05" fill="#a3002a"/>
<circle cx="342.70" cy="306.60" r="1.05" fill="#a3002a"/>
<circle cx="343.80" cy="305.40" r="1.05" fill="#a3002a"/>
<circle cx="339.30" cy="319.70" r="1.05" fill="#a3002a"/>
<circle cx="344.20" cy="319.20" r="1.05" fill="#a3002a"/>
<circle cx="406.90" cy="256.90" r="1.05" fill="#a3002a"/>
<circle cx="420.30" cy="259.50" r="1.05" fill="#a3002a"/>
<circle cx="426.90" cy="258.80" r="1.05" fill="#a3002a"/>
<circle cx="430.00" cy="258.80" r="1.05" fill="#a3002a"/>
<circle cx="424.90" cy="264.60" r="1.05" fill="#a3002a"/>
<circle cx="426.20" cy="248.90" r="1.05" fill="#a3002a"/>
<circle cx="438.90" cy="246.90" r="1.05" fill="#a3002a"/>
<circle cx="445.70" cy="247.70" r="1.05" fill="#a3002a"/>
<circle cx="453.10" cy="255.80" r="1.05" fill="#a3002a"/>
<circle cx="453.80" cy="262.30" r="1.05" fill="#a3002a"/>
<circle cx="454.20" cy="287.40" r="1.05" fill="#a3002a"/>
<circle cx="402.80" cy="270.80" r="1.05" fill="#a3002a"/>
<circle cx="403.80" cy="270.00" r="1.05" fill="#a3002a"/>
<circle cx="413.00" cy="272.60" r="1.05" fill="#a3002a"/>
<circle cx="418.80" cy="277.20" r="1.05" fill="#a3002a"/>
<circle cx="413.50" cy="276.20" r="1.05" fill="#a3002a"/>
<circle cx="412.60" cy="278.50" r="1.05" fill="#a3002a"/>
<circle cx="430.80" cy="281.50" r="1.05" fill="#a3002a"/>
<circle cx="428.00" cy="289.50" r="1.05" fill="#a3002a"/>
<circle cx="421.80" cy="300.30" r="1.05" fill="#a3002a"/>
<circle cx="410.00" cy="308.50" r="1.05" fill="#a3002a"/>
<circle cx="354.20" cy="293.40" r="1.05" fill="#a3002a"/>
<circle cx="378.50" cy="289.70" r="1.05" fill="#a3002a"/>
<circle cx="464.20" cy="223.40" r="1.05" fill="#a3002a"/>
<circle cx="451.20" cy="227.40" r="1.05" fill="#a3002a"/>
<circle cx="448.80" cy="236.20" r="1.05" fill="#a3002a"/>
<circle cx="451.50" cy="234.00" r="1.05" fill="#a3002a"/>
<circle cx="453.00" cy="235.80" r="1.05" fill="#a3002a"/>
<circle cx="498.20" cy="235.90" r="1.05" fill="#a3002a"/>
<circle cx="481.90" cy="178.50" r="1.05" fill="#a3002a"/>
<circle cx="484.80" cy="182.10" r="1.05" fill="#a3002a"/>
<circle cx="500.10" cy="180.80" r="1.05" fill="#a3002a"/>
<circle cx="435.80" cy="186.10" r="1.05" fill="#a3002a"/>
<circle cx="479.70" cy="205.00" r="1.05" fill="#a3002a"/>
<circle cx="485.00" cy="255.70" r="1.05" fill="#a3002a"/>
<circle cx="453.10" cy="255.80" r="1.05" fill="#a3002a"/>
<circle cx="406.60" cy="257.10" r="1.05" fill="#a3002a"/>
<circle cx="420.80" cy="259.40" r="1.05" fill="#a3002a"/>
<circle cx="427.40" cy="258.60" r="1.05" fill="#a3002a"/>
<circle cx="430.30" cy="258.60" r="1.05" fill="#a3002a"/>
<circle cx="403.50" cy="269.60" r="1.05" fill="#a3002a"/>
<circle cx="453.60" cy="262.40" r="1.05" fill="#a3002a"/>
<line x1="468.00" y1="178.50" x2="481.90" y2="178.50" stroke="#111" stroke-width="0.9"/>
<line x1="497.50" y1="178.30" x2="500.10" y2="180.80" stroke="#111" stroke-width="0.9"/>
<line x1="451.20" y1="233.80" x2="453.60" y2="230.40" stroke="#111" stroke-width="0.9"/>
<line x1="453.00" y1="235.80" x2="456.90" y2="240.50" stroke="#111" stroke-width="0.9"/>
<text x="420.30" y="179.80" font-size="7.0" textLength="46.00" lengthAdjust="spacingAndGlyphs" fill="#2a2a2a" stroke="#2a2a2a" stroke-width="0.08" >hsa.miR.127.3p</text>
<text x="467.20" y="176.40" font-size="7.0" textLength="45.30" lengthAdjust="spacingAndGlyphs" fill="#2a2a2a" stroke="#2a2a2a" stroke-width="0.08" >hsa.miR.136.5p</text>
<text x="455.40" y="188.50" font-size="7.0" textLength="48.80" lengthAdjust="spacingAndGlyphs" fill="#2a2a2a" stroke="#2a2a2a" stroke-width="0.08" >hsa.miR.376a.3p</text>
<text x="408.80" y="193.60" font-size="7.0" textLength="45.50" lengthAdjust="spacingAndGlyphs" fill="#2a2a2a" stroke="#2a2a2a" stroke-width="0.08" >hsa.miR.194.5p</text>
<text x="462.80" y="202.70" font-size="7.0" textLength="45.70" lengthAdjust="spacingAndGlyphs" fill="#2a2a2a" stroke="#2a2a2a" stroke-width="0.08" >hsa.miR.126.3p</text>
<text x="449.00" y="220.90" font-size="7.0" textLength="45.20" lengthAdjust="spacingAndGlyphs" fill="#2a2a2a" stroke="#2a2a2a" stroke-width="0.08" >hsa.miR.130.3p</text>
<text x="403.80" y="228.20" font-size="7.0" textLength="45.40" lengthAdjust="spacingAndGlyphs" fill="#2a2a2a" stroke="#2a2a2a" stroke-width="0.08" >hsa.miR.495.3p</text>
<text x="454.30" y="229.00" font-size="7.0" textLength="45.50" lengthAdjust="spacingAndGlyphs" fill="#2a2a2a" stroke="#2a2a2a" stroke-width="0.08" >hsa.miR.503.5p</text>
<text x="400.00" y="236.60" font-size="7.0" textLength="45.40" lengthAdjust="spacingAndGlyphs" fill="#2a2a2a" stroke="#2a2a2a" stroke-width="0.08" >hsa.miR.377.3p</text>
<text x="463.50" y="238.20" font-size="7.0" textLength="49.20" lengthAdjust="spacingAndGlyphs" fill="#2a2a2a" stroke="#2a2a2a" stroke-width="0.08" >hsa.miR.125a.5p</text>
<text x="454.30" y="247.00" font-size="7.0" textLength="45.50" lengthAdjust="spacingAndGlyphs" fill="#2a2a2a" stroke="#2a2a2a" stroke-width="0.08" >hsa.miR.376.3p</text>
<text x="406.20" y="245.10" font-size="7.0" textLength="45.00" lengthAdjust="spacingAndGlyphs" fill="#2a2a2a" stroke="#2a2a2a" stroke-width="0.08" >hsa.miR.34c.5p</text>
<text x="397.70" y="255.50" font-size="7.0" textLength="45.40" lengthAdjust="spacingAndGlyphs" fill="#2a2a2a" stroke="#2a2a2a" stroke-width="0.08" >hsa.miR.337.5p</text>
<text x="443.50" y="255.30" font-size="7.0" textLength="39.60" lengthAdjust="spacingAndGlyphs" fill="#2a2a2a" stroke="#2a2a2a" stroke-width="0.08" >hsa.miR.518b</text>
<line x1="37.00" y1="416.50" x2="37.00" y2="536.40" stroke="#404040" stroke-width="1.8"/>
<line x1="34.00" y1="536.40" x2="37.00" y2="536.40" stroke="#2a2a2a" stroke-width="1.1"/>
<text x="30.80" y="539.30" font-size="8.4" textLength="4.60" lengthAdjust="spacingAndGlyphs" text-anchor="end" fill="#2a2a2a" stroke="#2a2a2a" stroke-width="0.18" >0</text>
<line x1="34.00" y1="496.95" x2="37.00" y2="496.95" stroke="#2a2a2a" stroke-width="1.1"/>
<text x="30.80" y="499.85" font-size="8.4" textLength="9.00" lengthAdjust="spacingAndGlyphs" text-anchor="end" fill="#2a2a2a" stroke="#2a2a2a" stroke-width="0.18" >20</text>
<line x1="34.00" y1="457.50" x2="37.00" y2="457.50" stroke="#2a2a2a" stroke-width="1.1"/>
<text x="30.80" y="460.40" font-size="8.4" textLength="9.00" lengthAdjust="spacingAndGlyphs" text-anchor="end" fill="#2a2a2a" stroke="#2a2a2a" stroke-width="0.18" >40</text>
<line x1="34.00" y1="418.05" x2="37.00" y2="418.05" stroke="#2a2a2a" stroke-width="1.1"/>
<text x="31.00" y="420.95" font-size="8.4" textLength="9.00" lengthAdjust="spacingAndGlyphs" text-anchor="end" font-style="italic" fill="#2a2a2a" stroke="#2a2a2a" stroke-width="0.18" >60</text>
<text x="0" y="0" font-size="10.5" text-anchor="middle" transform="translate(15.75,475.25) rotate(-90)" fill="#2a2a2a" stroke="#2a2a2a" stroke-width="0.18" textLength="66.90" lengthAdjust="spacingAndGlyphs">Relative expression</text>
<rect x="52.00" y="492.00" width="25.30" height="44.40" fill="#a3002a"/>
<line x1="64.50" y1="488.80" x2="64.50" y2="492.00" stroke="#1a1a1a" stroke-width="1.1"/>
<line x1="58.00" y1="488.80" x2="71.00" y2="488.80" stroke="#1a1a1a" stroke-width="1.3"/>
<rect x="93.30" y="456.00" width="25.30" height="80.40" fill="#2e4b7d"/>
<line x1="105.50" y1="442.30" x2="105.50" y2="456.00" stroke="#1a1a1a" stroke-width="1.1"/>
<line x1="99.00" y1="442.30" x2="112.00" y2="442.30" stroke="#1a1a1a" stroke-width="1.3"/>
<rect x="134.30" y="478.20" width="25.30" height="58.20" fill="#6ba644"/>
<line x1="146.50" y1="469.80" x2="146.50" y2="478.20" stroke="#1a1a1a" stroke-width="1.1"/>
<line x1="140.00" y1="469.80" x2="153.00" y2="469.80" stroke="#1a1a1a" stroke-width="1.3"/>
<rect x="175.20" y="463.80" width="25.30" height="72.60" fill="#522661"/>
<line x1="187.50" y1="456.00" x2="187.50" y2="463.80" stroke="#1a1a1a" stroke-width="1.1"/>
<line x1="181.00" y1="456.00" x2="194.00" y2="456.00" stroke="#1a1a1a" stroke-width="1.3"/>
<line x1="34.00" y1="536.40" x2="215.80" y2="536.40" stroke="#1a1a1a" stroke-width="1.5"/>
<line x1="64.65" y1="536.40" x2="64.65" y2="539.60" stroke="#2a2a2a" stroke-width="1.1"/>
<line x1="105.95" y1="536.40" x2="105.95" y2="539.60" stroke="#2a2a2a" stroke-width="1.1"/>
<line x1="146.95" y1="536.40" x2="146.95" y2="539.60" stroke="#2a2a2a" stroke-width="1.1"/>
<line x1="187.85" y1="536.40" x2="187.85" y2="539.60" stroke="#2a2a2a" stroke-width="1.1"/>
<text x="115.60" y="403.30" font-size="10.4" textLength="21.50" lengthAdjust="spacingAndGlyphs" fill="#2a2a2a" stroke="#2a2a2a" stroke-width="0.18" >MYC</text>
<text x="67.50" y="414.00" font-size="7.8" textLength="33.10" lengthAdjust="spacingAndGlyphs" fill="#2a2a2a" stroke="#2a2a2a" stroke-width="0.18" ><tspan font-style="italic">P</tspan>=0.0076</text>
<text x="110.50" y="422.50" font-size="7.8" textLength="33.40" lengthAdjust="spacingAndGlyphs" fill="#2a2a2a" stroke="#2a2a2a" stroke-width="0.18" ><tspan font-style="italic">P</tspan>=0.0294</text>
<text x="150.90" y="430.60" font-size="7.8" textLength="32.90" lengthAdjust="spacingAndGlyphs" fill="#2a2a2a" stroke="#2a2a2a" stroke-width="0.18" ><tspan font-style="italic">P</tspan>=0.0027</text>
<line x1="64.00" y1="418.50" x2="99.80" y2="418.50" stroke="#2a2a2a" stroke-width="1.3"/>
<line x1="64.00" y1="426.00" x2="142.80" y2="426.00" stroke="#2a2a2a" stroke-width="1.5"/>
<line x1="64.00" y1="433.50" x2="185.20" y2="433.50" stroke="#2a2a2a" stroke-width="1.3"/>
<text transform="translate(67.65,549.90) rotate(-45)" x="0" y="0" font-size="8.3" text-anchor="end" fill="#2a2a2a" stroke="#2a2a2a" stroke-width="0.25">TP53 <tspan font-size="6.47" dy="-2.4">WT</tspan></text>
<text transform="translate(108.95,549.90) rotate(-45)" x="0" y="0" font-size="8.3" text-anchor="end" fill="#2a2a2a" stroke="#2a2a2a" stroke-width="0.25">TP53 <tspan font-size="6.47" dy="-2.4">KO</tspan></text>
<text transform="translate(149.95,549.90) rotate(-45)" x="0" y="0" font-size="8.3" text-anchor="end" fill="#2a2a2a" stroke="#2a2a2a" stroke-width="0.25">TP53 <tspan font-size="6.47" dy="-2.4">Y220C</tspan></text>
<text transform="translate(190.85,549.90) rotate(-45)" x="0" y="0" font-size="8.3" text-anchor="end" fill="#2a2a2a" stroke="#2a2a2a" stroke-width="0.25">TP53 <tspan font-size="6.47" dy="-2.4">M237I</tspan></text>
<line x1="268.20" y1="416.30" x2="268.20" y2="537.00" stroke="#222" stroke-width="1.4"/>
<line x1="265.30" y1="537.00" x2="268.20" y2="537.00" stroke="#2a2a2a" stroke-width="1.1"/>
<text x="261.80" y="539.90" font-size="8.2" textLength="11.30" lengthAdjust="spacingAndGlyphs" text-anchor="end" fill="#2a2a2a" stroke="#2a2a2a" stroke-width="0.18" >0.0</text>
<line x1="265.30" y1="477.40" x2="268.20" y2="477.40" stroke="#2a2a2a" stroke-width="1.1"/>
<text x="261.80" y="480.30" font-size="8.2" textLength="11.30" lengthAdjust="spacingAndGlyphs" text-anchor="end" fill="#2a2a2a" stroke="#2a2a2a" stroke-width="0.18" >0.5</text>
<line x1="265.30" y1="417.80" x2="268.20" y2="417.80" stroke="#2a2a2a" stroke-width="1.1"/>
<text x="261.80" y="420.70" font-size="8.2" textLength="11.30" lengthAdjust="spacingAndGlyphs" text-anchor="end" fill="#2a2a2a" stroke="#2a2a2a" stroke-width="0.18" >1.0</text>
<text x="0" y="0" font-size="10.8" text-anchor="middle" transform="translate(245.10,475.55) rotate(-90)" fill="#2a2a2a" stroke="#2a2a2a" stroke-width="0.18" textLength="66.90" lengthAdjust="spacingAndGlyphs">Relative expression</text>
<rect x="282.90" y="419.20" width="25.30" height="117.80" fill="#a3002a"/>
<line x1="371.40" y1="536.20" x2="384.00" y2="536.20" stroke="#222" stroke-width="1.3"/>
<line x1="412.50" y1="536.20" x2="425.10" y2="536.20" stroke="#222" stroke-width="1.3"/>
<line x1="265.30" y1="537.00" x2="447.10" y2="537.00" stroke="#1a1a1a" stroke-width="1.5"/>
<line x1="295.50" y1="537.00" x2="295.50" y2="540.20" stroke="#2a2a2a" stroke-width="1.1"/>
<line x1="336.60" y1="537.00" x2="336.60" y2="540.20" stroke="#2a2a2a" stroke-width="1.1"/>
<line x1="377.70" y1="537.00" x2="377.70" y2="540.20" stroke="#2a2a2a" stroke-width="1.1"/>
<line x1="418.80" y1="537.00" x2="418.80" y2="540.20" stroke="#2a2a2a" stroke-width="1.1"/>
<text x="331.70" y="403.70" font-size="10.2" textLength="51.90" lengthAdjust="spacingAndGlyphs" fill="#2a2a2a" stroke="#2a2a2a" stroke-width="0.18" >miR-34a-5p</text>
<text x="321.60" y="525.20" font-size="8.3" textLength="32.80" lengthAdjust="spacingAndGlyphs" fill="#2a2a2a" stroke="#2a2a2a" stroke-width="0.18" ><tspan font-style="italic">P</tspan>&lt;0.0001</text>
<text x="360.60" y="525.20" font-size="8.3" textLength="32.80" lengthAdjust="spacingAndGlyphs" fill="#2a2a2a" stroke="#2a2a2a" stroke-width="0.18" ><tspan font-style="italic">P</tspan>&lt;0.0001</text>
<text x="400.40" y="525.20" font-size="8.3" textLength="32.80" lengthAdjust="spacingAndGlyphs" fill="#2a2a2a" stroke="#2a2a2a" stroke-width="0.18" ><tspan font-style="italic">P</tspan>&lt;0.0001</text>
<text transform="translate(298.50,550.20) rotate(-45)" x="0" y="0" font-size="8.3" text-anchor="end" fill="#2a2a2a" stroke="#2a2a2a" stroke-width="0.25">TP53 <tspan font-size="6.47" dy="-2.4">WT</tspan></text>
<text transform="translate(339.60,550.20) rotate(-45)" x="0" y="0" font-size="8.3" text-anchor="end" fill="#2a2a2a" stroke="#2a2a2a" stroke-width="0.25">TP53 <tspan font-size="6.47" dy="-2.4">KO</tspan></text>
<text transform="translate(380.70,550.20) rotate(-45)" x="0" y="0" font-size="8.3" text-anchor="end" fill="#2a2a2a" stroke="#2a2a2a" stroke-width="0.25">TP53 <tspan font-size="6.47" dy="-2.4">Y220C</tspan></text>
<text transform="translate(421.80,550.20) rotate(-45)" x="0" y="0" font-size="8.3" text-anchor="end" fill="#2a2a2a" stroke="#2a2a2a" stroke-width="0.25">TP53 <tspan font-size="6.47" dy="-2.4">M237I</tspan></text>
<rect x="0" y="0" width="520" height="1.2" fill="#000"/>
<rect x="0" y="0" width="1.2" height="585" fill="#000"/>
<rect x="518.6" y="0" width="1.4" height="585" fill="#000"/>
<rect x="0" y="583.6" width="520" height="1.4" fill="#000"/>
</svg>
</body></html>
